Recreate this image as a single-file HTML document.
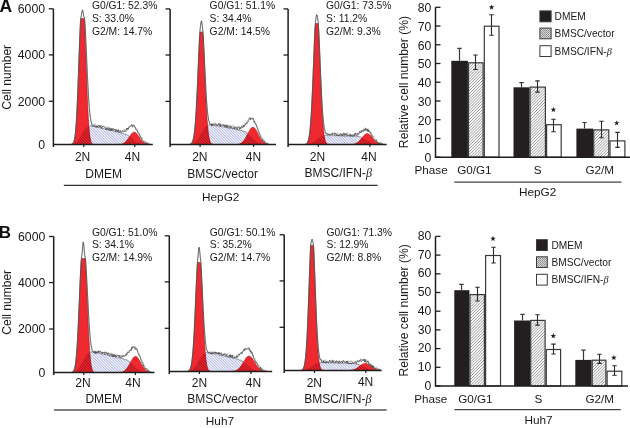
<!DOCTYPE html><html><head><meta charset="utf-8"><style>html,body{margin:0;padding:0;background:#fff;}svg{display:block;will-change:transform;}text{font-family:"Liberation Sans", sans-serif;}</style></head><body>
<svg width="630" height="428" viewBox="0 0 630 428">
<defs>
<pattern id="hb" patternUnits="userSpaceOnUse" width="1.95" height="3" patternTransform="rotate(-45)"><rect width="1.95" height="3" fill="#fcfcff"/><rect x="0" y="0" width="0.8" height="3" fill="#a4aadb"/></pattern>
<pattern id="hr" patternUnits="userSpaceOnUse" width="1.95" height="3" patternTransform="rotate(-45)"><rect x="0" y="0" width="0.9" height="3" fill="#a8101a"/></pattern>
<pattern id="hg" patternUnits="userSpaceOnUse" width="2.05" height="3" patternTransform="rotate(45)"><rect width="2.05" height="3" fill="#fff"/><rect x="0" y="0" width="0.75" height="3" fill="#9a9a9a"/></pattern>
<pattern id="dots" patternUnits="userSpaceOnUse" width="2" height="2"><rect width="2" height="2" fill="#d8d8d8"/><rect width="1" height="1" fill="#8a8a8a"/><rect x="1" y="1" width="1" height="1" fill="#9a9a9a"/></pattern>
</defs>
<rect width="630" height="428" fill="#fff"/>
<clipPath id="cra1"><path d="M71.4,144.5 L71.4,144.4 L71.9,144.29 L72.4,144.08 L72.9,143.7 L73.4,143.04 L73.9,141.95 L74.4,140.23 L74.9,137.62 L75.4,133.84 L75.9,128.6 L76.4,121.67 L76.9,112.89 L77.4,102.28 L77.9,90.02 L78.4,76.52 L78.9,62.39 L79.4,48.38 L79.9,35.28 L80.4,23.86 L80.9,18.5 L81.4,18.5 L81.9,18.5 L82.4,18.5 L82.9,18.5 L83.4,18.5 L83.9,18.5 L84.4,19.9 L84.9,30.47 L85.4,42.98 L85.9,56.73 L86.4,70.91 L86.9,84.74 L87.4,97.55 L87.9,108.86 L88.4,118.38 L88.9,126.04 L89.4,131.93 L89.9,136.26 L90.4,139.3 L90.9,141.35 L91.4,142.67 L91.9,143.47 L92.4,143.95 L92.9,144.22 L93.4,144.36 L93.9,144.43 L93.9,144.5 Z"/><path d="M117.9,144.5 L117.9,144.44 L118.4,144.42 L118.9,144.38 L119.4,144.34 L119.9,144.29 L120.4,144.22 L120.9,144.14 L121.4,144.03 L121.9,143.89 L122.4,143.73 L122.9,143.53 L123.4,143.29 L123.9,143 L124.4,142.67 L124.9,142.28 L125.4,141.84 L125.9,141.35 L126.4,140.8 L126.9,140.19 L127.4,139.54 L127.9,138.85 L128.4,138.12 L128.9,137.37 L129.4,136.62 L129.9,135.86 L130.4,135.14 L130.9,134.45 L131.4,133.81 L131.9,133.25 L132.4,132.78 L132.9,132.42 L133.4,132.16 L133.9,132.02 L134.4,132.01 L134.9,132.12 L135.4,132.35 L135.9,132.7 L136.4,133.15 L136.9,133.7 L137.4,134.31 L137.9,134.99 L138.4,135.72 L138.9,136.46 L139.4,137.22 L139.9,137.97 L140.4,138.71 L140.9,139.41 L141.4,140.07 L141.9,140.68 L142.4,141.24 L142.9,141.75 L143.4,142.2 L143.9,142.6 L144.4,142.94 L144.9,143.23 L145.4,143.48 L145.9,143.69 L146.4,143.86 L146.9,144 L147.4,144.12 L147.9,144.21 L148.4,144.28 L148.9,144.33 L149.4,144.38 L149.9,144.41 L150.4,144.43 L150.4,144.5 Z"/></clipPath>
<path d="M69.4,144.5 L69.4,144.44 L69.9,144.41 L70.4,144.38 L70.9,144.34 L71.4,144.28 L71.9,144.21 L72.4,144.11 L72.9,144 L73.4,143.85 L73.9,143.67 L74.4,143.45 L74.9,143.19 L75.4,142.88 L75.9,142.52 L76.4,142.1 L76.9,141.63 L77.4,141.09 L77.9,140.5 L78.4,139.84 L78.9,139.13 L79.4,138.37 L79.9,137.57 L80.4,136.73 L80.9,135.87 L81.4,134.99 L81.9,134.11 L82.4,133.24 L82.9,132.39 L83.4,131.57 L83.9,130.79 L84.4,130.06 L84.9,129.38 L85.4,128.77 L85.9,128.22 L86.4,127.73 L86.9,127.32 L87.4,126.96 L87.9,126.67 L88.4,126.44 L88.9,126.27 L89.4,126.14 L89.9,126.05 L90.4,126 L90.9,125.99 L91.4,126 L91.9,126.03 L92.4,126.09 L92.9,126.16 L93.4,126.24 L93.9,126.33 L94.4,126.43 L94.9,126.54 L95.4,126.64 L95.9,126.76 L96.4,126.87 L96.9,126.99 L97.4,127.11 L97.9,127.23 L98.4,127.35 L98.9,127.47 L99.4,127.59 L99.9,127.71 L100.4,127.83 L100.9,127.95 L101.4,128.07 L101.9,128.19 L102.4,128.31 L102.9,128.43 L103.4,128.55 L103.9,128.67 L104.4,128.79 L104.9,128.92 L105.4,129.04 L105.9,129.16 L106.4,129.28 L106.9,129.4 L107.4,129.52 L107.9,129.64 L108.4,129.76 L108.9,129.88 L109.4,130 L109.9,130.12 L110.4,130.25 L110.9,130.37 L111.4,130.49 L111.9,130.61 L112.4,130.73 L112.9,130.85 L113.4,130.97 L113.9,131.09 L114.4,131.21 L114.9,131.33 L115.4,131.46 L115.9,131.58 L116.4,131.7 L116.9,131.82 L117.4,131.94 L117.9,132.07 L118.4,132.19 L118.9,132.31 L119.4,132.44 L119.9,132.57 L120.4,132.7 L120.9,132.83 L121.4,132.97 L121.9,133.11 L122.4,133.25 L122.9,133.4 L123.4,133.56 L123.9,133.73 L124.4,133.9 L124.9,134.09 L125.4,134.29 L125.9,134.5 L126.4,134.73 L126.9,134.98 L127.4,135.24 L127.9,135.52 L128.4,135.82 L128.9,136.13 L129.4,136.47 L129.9,136.82 L130.4,137.19 L130.9,137.57 L131.4,137.96 L131.9,138.37 L132.4,138.78 L132.9,139.19 L133.4,139.6 L133.9,140.01 L134.4,140.41 L134.9,140.8 L135.4,141.17 L135.9,141.53 L136.4,141.87 L136.9,142.19 L137.4,142.48 L137.9,142.75 L138.4,143 L138.9,143.22 L139.4,143.42 L139.9,143.59 L140.4,143.75 L140.9,143.88 L141.4,143.99 L141.9,144.09 L142.4,144.17 L142.9,144.24 L143.4,144.29 L143.9,144.34 L144.4,144.38 L144.9,144.4 L145.4,144.43 L145.9,144.45 L145.9,144.5 Z" fill="url(#hb)"/>
<path d="M71.4,144.5 L71.4,144.4 L71.9,144.29 L72.4,144.08 L72.9,143.7 L73.4,143.04 L73.9,141.95 L74.4,140.23 L74.9,137.62 L75.4,133.84 L75.9,128.6 L76.4,121.67 L76.9,112.89 L77.4,102.28 L77.9,90.02 L78.4,76.52 L78.9,62.39 L79.4,48.38 L79.9,35.28 L80.4,23.86 L80.9,18.5 L81.4,18.5 L81.9,18.5 L82.4,18.5 L82.9,18.5 L83.4,18.5 L83.9,18.5 L84.4,19.9 L84.9,30.47 L85.4,42.98 L85.9,56.73 L86.4,70.91 L86.9,84.74 L87.4,97.55 L87.9,108.86 L88.4,118.38 L88.9,126.04 L89.4,131.93 L89.9,136.26 L90.4,139.3 L90.9,141.35 L91.4,142.67 L91.9,143.47 L92.4,143.95 L92.9,144.22 L93.4,144.36 L93.9,144.43 L93.9,144.5 Z" fill="#ee2a30"/>
<path d="M117.9,144.5 L117.9,144.44 L118.4,144.42 L118.9,144.38 L119.4,144.34 L119.9,144.29 L120.4,144.22 L120.9,144.14 L121.4,144.03 L121.9,143.89 L122.4,143.73 L122.9,143.53 L123.4,143.29 L123.9,143 L124.4,142.67 L124.9,142.28 L125.4,141.84 L125.9,141.35 L126.4,140.8 L126.9,140.19 L127.4,139.54 L127.9,138.85 L128.4,138.12 L128.9,137.37 L129.4,136.62 L129.9,135.86 L130.4,135.14 L130.9,134.45 L131.4,133.81 L131.9,133.25 L132.4,132.78 L132.9,132.42 L133.4,132.16 L133.9,132.02 L134.4,132.01 L134.9,132.12 L135.4,132.35 L135.9,132.7 L136.4,133.15 L136.9,133.7 L137.4,134.31 L137.9,134.99 L138.4,135.72 L138.9,136.46 L139.4,137.22 L139.9,137.97 L140.4,138.71 L140.9,139.41 L141.4,140.07 L141.9,140.68 L142.4,141.24 L142.9,141.75 L143.4,142.2 L143.9,142.6 L144.4,142.94 L144.9,143.23 L145.4,143.48 L145.9,143.69 L146.4,143.86 L146.9,144 L147.4,144.12 L147.9,144.21 L148.4,144.28 L148.9,144.33 L149.4,144.38 L149.9,144.41 L150.4,144.43 L150.4,144.5 Z" fill="#ee2a30"/>
<path d="M69.4,144.5 L69.4,144.44 L69.9,144.41 L70.4,144.38 L70.9,144.34 L71.4,144.28 L71.9,144.21 L72.4,144.11 L72.9,144 L73.4,143.85 L73.9,143.67 L74.4,143.45 L74.9,143.19 L75.4,142.88 L75.9,142.52 L76.4,142.1 L76.9,141.63 L77.4,141.09 L77.9,140.5 L78.4,139.84 L78.9,139.13 L79.4,138.37 L79.9,137.57 L80.4,136.73 L80.9,135.87 L81.4,134.99 L81.9,134.11 L82.4,133.24 L82.9,132.39 L83.4,131.57 L83.9,130.79 L84.4,130.06 L84.9,129.38 L85.4,128.77 L85.9,128.22 L86.4,127.73 L86.9,127.32 L87.4,126.96 L87.9,126.67 L88.4,126.44 L88.9,126.27 L89.4,126.14 L89.9,126.05 L90.4,126 L90.9,125.99 L91.4,126 L91.9,126.03 L92.4,126.09 L92.9,126.16 L93.4,126.24 L93.9,126.33 L94.4,126.43 L94.9,126.54 L95.4,126.64 L95.9,126.76 L96.4,126.87 L96.9,126.99 L97.4,127.11 L97.9,127.23 L98.4,127.35 L98.9,127.47 L99.4,127.59 L99.9,127.71 L100.4,127.83 L100.9,127.95 L101.4,128.07 L101.9,128.19 L102.4,128.31 L102.9,128.43 L103.4,128.55 L103.9,128.67 L104.4,128.79 L104.9,128.92 L105.4,129.04 L105.9,129.16 L106.4,129.28 L106.9,129.4 L107.4,129.52 L107.9,129.64 L108.4,129.76 L108.9,129.88 L109.4,130 L109.9,130.12 L110.4,130.25 L110.9,130.37 L111.4,130.49 L111.9,130.61 L112.4,130.73 L112.9,130.85 L113.4,130.97 L113.9,131.09 L114.4,131.21 L114.9,131.33 L115.4,131.46 L115.9,131.58 L116.4,131.7 L116.9,131.82 L117.4,131.94 L117.9,132.07 L118.4,132.19 L118.9,132.31 L119.4,132.44 L119.9,132.57 L120.4,132.7 L120.9,132.83 L121.4,132.97 L121.9,133.11 L122.4,133.25 L122.9,133.4 L123.4,133.56 L123.9,133.73 L124.4,133.9 L124.9,134.09 L125.4,134.29 L125.9,134.5 L126.4,134.73 L126.9,134.98 L127.4,135.24 L127.9,135.52 L128.4,135.82 L128.9,136.13 L129.4,136.47 L129.9,136.82 L130.4,137.19 L130.9,137.57 L131.4,137.96 L131.9,138.37 L132.4,138.78 L132.9,139.19 L133.4,139.6 L133.9,140.01 L134.4,140.41 L134.9,140.8 L135.4,141.17 L135.9,141.53 L136.4,141.87 L136.9,142.19 L137.4,142.48 L137.9,142.75 L138.4,143 L138.9,143.22 L139.4,143.42 L139.9,143.59 L140.4,143.75 L140.9,143.88 L141.4,143.99 L141.9,144.09 L142.4,144.17 L142.9,144.24 L143.4,144.29 L143.9,144.34 L144.4,144.38 L144.9,144.4 L145.4,144.43 L145.9,144.45 L145.9,144.5 Z" fill="url(#hr)" clip-path="url(#cra1)"/>
<path d="M71.4,144.5 L71.4,144.4 L71.9,144.29 L72.4,144.08 L72.9,143.7 L73.4,143.04 L73.9,141.95 L74.4,140.23 L74.9,137.62 L75.4,133.84 L75.9,128.6 L76.4,121.67 L76.9,112.89 L77.4,102.28 L77.9,90.02 L78.4,76.52 L78.9,62.39 L79.4,48.38 L79.9,35.28 L80.4,23.86 L80.9,18.5 L81.4,18.5 L81.9,18.5 L82.4,18.5 L82.9,18.5 L83.4,18.5 L83.9,18.5 L84.4,19.9 L84.9,30.47 L85.4,42.98 L85.9,56.73 L86.4,70.91 L86.9,84.74 L87.4,97.55 L87.9,108.86 L88.4,118.38 L88.9,126.04 L89.4,131.93 L89.9,136.26 L90.4,139.3 L90.9,141.35 L91.4,142.67 L91.9,143.47 L92.4,143.95 L92.9,144.22 L93.4,144.36 L93.9,144.43 L93.9,144.5 Z" fill="none" stroke="#8a0c12" stroke-width="0.7" opacity="0.75"/>
<path d="M117.9,144.5 L117.9,144.44 L118.4,144.42 L118.9,144.38 L119.4,144.34 L119.9,144.29 L120.4,144.22 L120.9,144.14 L121.4,144.03 L121.9,143.89 L122.4,143.73 L122.9,143.53 L123.4,143.29 L123.9,143 L124.4,142.67 L124.9,142.28 L125.4,141.84 L125.9,141.35 L126.4,140.8 L126.9,140.19 L127.4,139.54 L127.9,138.85 L128.4,138.12 L128.9,137.37 L129.4,136.62 L129.9,135.86 L130.4,135.14 L130.9,134.45 L131.4,133.81 L131.9,133.25 L132.4,132.78 L132.9,132.42 L133.4,132.16 L133.9,132.02 L134.4,132.01 L134.9,132.12 L135.4,132.35 L135.9,132.7 L136.4,133.15 L136.9,133.7 L137.4,134.31 L137.9,134.99 L138.4,135.72 L138.9,136.46 L139.4,137.22 L139.9,137.97 L140.4,138.71 L140.9,139.41 L141.4,140.07 L141.9,140.68 L142.4,141.24 L142.9,141.75 L143.4,142.2 L143.9,142.6 L144.4,142.94 L144.9,143.23 L145.4,143.48 L145.9,143.69 L146.4,143.86 L146.9,144 L147.4,144.12 L147.9,144.21 L148.4,144.28 L148.9,144.33 L149.4,144.38 L149.9,144.41 L150.4,144.43 L150.4,144.5 Z" fill="none" stroke="#8a0c12" stroke-width="0.5" opacity="0.6"/>
<path d="M71.4,144.2 L71.9,144.03 L72.4,143.75 L72.9,143.28 L73.4,142.52 L73.9,141.32 L74.4,139.48 L74.9,136.74 L75.4,132.84 L75.9,127.49 L76.4,120.46 L76.9,111.61 L77.4,100.95 L77.9,88.69 L78.4,75.25 L78.9,61.22 L79.4,47.36 L79.9,34.44 L80.4,23.23 L80.9,17.45 L81.4,15.3 L81.9,12.04 L82.4,9.87 L82.9,10.88 L83.4,14.05 L83.9,16.78 L84.4,17.54 L84.9,22.02 L85.4,31.04 L85.9,41.28 L86.4,52.28 L86.9,63.51 L87.4,74.47 L87.9,84.86 L88.4,93.91 L88.9,101.99 L89.4,108.8 L89.9,113.9 L90.4,117.03 L90.9,119.58 L91.4,123.5 L91.9,123.5 L92.4,125.82 L92.9,124.6 L93.4,125.86 L93.9,124.54 L94.4,124.31 L94.9,125.53 L95.4,124.22 L95.9,126 L96.4,126.6 L96.9,125.26 L97.4,126.78 L97.9,126.4 L98.4,125.93 L98.9,125.48 L99.4,126.76 L99.9,127.15 L100.4,125.11 L100.9,126.66 L101.4,125.1 L101.9,125.37 L102.4,126.84 L102.9,126.74 L103.4,126.71 L103.9,126.5 L104.4,126.75 L104.9,126.96 L105.4,126.93 L105.9,126.21 L106.4,127.46 L106.9,127.78 L107.4,127.15 L107.9,128.52 L108.4,128.48 L108.9,126.84 L109.4,128.15 L109.9,128.2 L110.4,129.72 L110.9,128.79 L111.4,128.48 L111.9,130.06 L112.4,128.63 L112.9,128.7 L113.4,130.31 L113.9,128.96 L114.4,129.5 L114.9,129.06 L115.4,130.03 L115.9,129.22 L116.4,129.26 L116.9,131.23 L117.4,131.24 L117.9,129.74 L118.4,129.1 L118.9,131.04 L119.4,130.59 L119.9,130.31 L120.4,131.08 L120.9,131.01 L121.4,131.17 L121.9,131.02 L122.4,130.41 L122.9,131.12 L123.4,130.84 L123.9,129.69 L124.4,131.46 L124.9,129.85 L125.4,129.17 L125.9,129.99 L126.4,129.89 L126.9,128.01 L127.4,129.08 L127.9,128.8 L128.4,127.72 L128.9,126.59 L129.4,127.72 L129.9,126.74 L130.4,126.34 L130.9,124.73 L131.4,125.52 L131.9,124.27 L132.4,126 L132.9,125.6 L133.4,124.94 L133.9,124.61 L134.4,126.12 L134.9,127.22 L135.4,128.1 L135.9,127.75 L136.4,129.42 L136.9,128.69 L137.4,129.53 L137.9,132.19 L138.4,132.91 L138.9,132.52 L139.4,133.91 L139.9,134.41 L140.4,136.5 L140.9,137.91 L141.4,138.27 L141.9,137.68 L142.4,139.69 L142.9,140.08 L143.4,140.43 L143.9,140.9 L144.4,141.36 L144.9,140.59 L145.4,142.66 L145.9,143.25 L146.4,141.88 L146.9,142.41 L147.4,142.68 L147.9,143.6 L148.4,143.45 L148.9,143.75 L149.9,144.19" fill="none" stroke="#8a8a8a" stroke-width="0.6" opacity="0.9"/>
<path d="M71.4,144.2 L71.9,144.03 L72.4,143.75 L72.9,143.28 L73.4,142.52 L73.9,141.32 L74.4,139.48 L74.9,136.74 L75.4,132.84 L75.9,127.49 L76.4,120.46 L76.9,111.61 L77.4,100.95 L77.9,88.69 L78.4,75.25 L78.9,61.22 L79.4,47.36 L79.9,34.44 L80.4,23.23 L80.9,17.45 L81.4,15.3 L81.9,12.04 L82.4,9.87 L82.9,10.88 L83.4,14.05 L83.9,16.78 L84.4,17.54 L84.9,22.02 L85.4,31.04 L85.9,41.28 L86.4,52.28 L86.9,63.52 L87.4,74.53 L87.9,84.92 L88.4,94.24 L88.9,102.22 L89.4,108.64 L89.9,113.58 L90.4,118.33 L90.9,120.3 L91.4,122.81 L91.9,124.75 L92.4,125.82 L92.9,125.97 L93.4,125.62 L93.9,126.57 L94.4,125.78 L94.9,126.46 L95.4,127.08 L95.9,126.19 L96.4,125.72 L96.9,127.61 L97.4,126.59 L97.9,126.64 L98.4,125.35 L98.9,125.26 L99.4,127.04 L99.9,125.57 L100.4,125.99 L100.9,127.69 L101.4,127.2 L101.9,128.33 L102.4,126.38 L102.9,126.95 L103.4,126.4 L103.9,126.8 L104.4,127.29 L104.9,127.22 L105.4,127.85 L105.9,129.35 L106.4,128.02 L106.9,129.88 L107.4,129.59 L107.9,127.82 L108.4,130.13 L108.9,130.11 L109.4,130.21 L109.9,127.98 L110.4,130.21 L110.9,130.8 L111.4,128.46 L111.9,130.74 L112.4,128.7 L112.9,129.33 L113.4,128.96 L113.9,128.73 L114.4,129.97 L114.9,129.43 L115.4,131.84 L115.9,129.76 L116.4,130.64 L116.9,130.14 L117.4,132.08 L117.9,130.25 L118.4,129.8 L118.9,132.51 L119.4,131.81 L119.9,131.16 L120.4,130.43 L120.9,132.23 L121.4,132.44 L121.9,132.23 L122.4,131.11 L122.9,130.65 L123.4,131.64 L123.9,131.59 L124.4,131.34 L124.9,131.28 L125.4,130.83 L125.9,131.55 L126.4,129.97 L126.9,128.18 L127.4,129.47 L127.9,128.04 L128.4,129.37 L128.9,127.34 L129.4,126.71 L129.9,126.55 L130.4,126.66 L130.9,126.45 L131.4,125.73 L131.9,124.81 L132.4,126.99 L132.9,127.19 L133.4,125.39 L133.9,125.16 L134.4,126.75 L134.9,127.47 L135.4,127.26 L135.9,129.57 L136.4,130.12 L136.9,131.19 L137.4,130.95 L137.9,132.72 L138.4,133.94 L138.9,133.54 L139.4,133.72 L139.9,136.62 L140.4,136.29 L140.9,138 L141.4,137.46 L141.9,138.99 L142.4,140.59 L142.9,141.31 L143.4,142.39 L143.9,141.53 L144.4,142.2 L144.9,143.11 L145.4,142.93 L145.9,143.28 L146.4,142.62 L146.9,144.01 L147.4,142.95 L147.9,143.85 L148.4,143.91 L148.9,144.15 L149.4,144.1" fill="none" stroke="#404040" stroke-width="0.65" opacity="1"/>
<path d="M89.4,125.85 L89.9,126.13 L90.4,125.81 L90.9,125.62 L91.4,126.02 L91.9,126.25 L92.4,126.3 L92.9,125.98 L93.4,126.1 L93.9,125.96 L94.4,126.15 L94.9,126.74 L95.4,126.89 L95.9,126.95 L96.4,127.12 L96.9,126.83 L97.4,126.82 L97.9,126.91 L98.4,127.54 L98.9,127.17 L99.4,127.74 L99.9,127.77 L100.4,127.65 L100.9,128.28 L101.4,128.4 L101.9,127.92 L102.4,128.48 L102.9,128.55 L103.4,128.49 L103.9,128.53 L104.4,129.19 L104.9,129.05 L105.4,129.09 L105.9,129.17 L106.4,129.51 L106.9,129.33 L107.4,129.16 L107.9,129.73 L108.4,129.73 L108.9,130.19 L109.4,130.18 L109.9,129.99 L110.4,130.56 L110.9,130.06 L111.4,130.16 L111.9,130.93 L112.4,130.38 L112.9,130.95 L113.4,130.75 L113.9,130.89 L114.4,131.38 L114.9,131.19 L115.4,131.33 L115.9,131.33 L116.4,131.89 L116.9,131.62 L117.4,131.57 L117.9,131.93 L118.4,132.16 L118.9,132.62 L119.4,132.45 L119.9,132.69 L120.4,132.52 L120.9,132.69 L121.4,132.91 L121.9,133.36 L122.4,133.13 L122.9,133.3 L123.4,133.82 L123.9,133.41 L124.4,133.78 L124.9,134.39 L125.4,133.94 L125.9,134.79 L126.4,134.87 L126.9,134.8 L127.4,135.16 L127.9,135.47 L128.4,135.7 L128.9,136.17 L129.4,136.62" fill="none" stroke="#3a3a4a" stroke-width="0.6" opacity="0.9"/>
<path d="M53.4,8.8 V147.1 M52.65,144.5 H152.8" stroke="#1e1e1e" stroke-width="1.5" fill="none"/>
<path d="M48.8,8.8 H53.4" stroke="#1e1e1e" stroke-width="1.3"/>
<path d="M48.8,54.9 H53.4" stroke="#1e1e1e" stroke-width="1.3"/>
<path d="M48.8,101.3 H53.4" stroke="#1e1e1e" stroke-width="1.3"/>
<path d="M83.8,144.5 V147.1" stroke="#1e1e1e" stroke-width="1.2"/>
<path d="M134.8,144.5 V147.1" stroke="#1e1e1e" stroke-width="1.2"/>
<text x="45.1" y="13.1" font-size="12.3" text-anchor="end" font-weight="normal" fill="#1a1a1a" >6000</text>
<text x="45.1" y="59.2" font-size="12.3" text-anchor="end" font-weight="normal" fill="#1a1a1a" >4000</text>
<text x="45.1" y="105.6" font-size="12.3" text-anchor="end" font-weight="normal" fill="#1a1a1a" >2000</text>
<text x="45.1" y="148.8" font-size="12.3" text-anchor="end" font-weight="normal" fill="#1a1a1a" >0</text>
<text x="82.6" y="160.8" font-size="12" text-anchor="middle" font-weight="normal" fill="#1a1a1a" >2N</text>
<text x="132.5" y="160.8" font-size="12" text-anchor="middle" font-weight="normal" fill="#1a1a1a" >4N</text>
<text x="91.9" y="9.4" font-size="10.35" text-anchor="start" font-weight="normal" fill="#1a1a1a" >G0/G1: 52.3%</text>
<text x="91.9" y="22" font-size="10.35" text-anchor="start" font-weight="normal" fill="#1a1a1a" >S: 33.0%</text>
<text x="91.9" y="34.6" font-size="10.35" text-anchor="start" font-weight="normal" fill="#1a1a1a" >G2/M: 14.7%</text>
<text x="103.6" y="177.7" font-size="12" text-anchor="middle" font-weight="normal" fill="#1a1a1a" >DMEM</text>
<clipPath id="cra2"><path d="M189.1,144.5 L189.1,144.43 L189.6,144.37 L190.1,144.27 L190.6,144.1 L191.1,143.83 L191.6,143.4 L192.1,142.74 L192.6,141.75 L193.1,140.3 L193.6,138.25 L194.1,135.43 L194.6,131.66 L195.1,126.75 L195.6,120.57 L196.1,113.03 L196.6,104.11 L197.1,93.94 L197.6,82.74 L198.1,70.91 L198.6,58.95 L199.1,47.47 L199.6,37.13 L200.1,32 L200.6,32 L201.1,32 L201.6,32 L202.1,32 L202.6,32 L203.1,35.26 L203.6,45.29 L204.1,56.59 L204.6,68.51 L205.1,80.41 L205.6,91.77 L206.1,102.17 L206.6,111.35 L207.1,119.17 L207.6,125.62 L208.1,130.77 L208.6,134.76 L209.1,137.76 L209.6,139.95 L210.1,141.5 L210.6,142.57 L211.1,143.29 L211.6,143.76 L212.1,144.06 L212.6,144.24 L213.1,144.35 L213.6,144.42 L213.6,144.5 Z"/><path d="M235.1,144.5 L235.1,144.44 L235.6,144.42 L236.1,144.38 L236.6,144.35 L237.1,144.29 L237.6,144.23 L238.1,144.15 L238.6,144.04 L239.1,143.91 L239.6,143.75 L240.1,143.55 L240.6,143.32 L241.1,143.03 L241.6,142.7 L242.1,142.31 L242.6,141.85 L243.1,141.33 L243.6,140.75 L244.1,140.09 L244.6,139.37 L245.1,138.57 L245.6,137.72 L246.1,136.82 L246.6,135.87 L247.1,134.88 L247.6,133.89 L248.1,132.89 L248.6,131.91 L249.1,130.97 L249.6,130.08 L250.1,129.28 L250.6,128.57 L251.1,127.98 L251.6,127.52 L252.1,127.2 L252.6,127.03 L253.1,127.01 L253.6,127.15 L254.1,127.44 L254.6,127.88 L255.1,128.44 L255.6,129.13 L256.1,129.92 L256.6,130.78 L257.1,131.72 L257.6,132.69 L258.1,133.69 L258.6,134.69 L259.1,135.67 L259.6,136.63 L260.1,137.55 L260.6,138.41 L261.1,139.21 L261.6,139.95 L262.1,140.62 L262.6,141.22 L263.1,141.75 L263.6,142.22 L264.1,142.62 L264.6,142.97 L265.1,143.26 L265.6,143.51 L266.1,143.71 L266.6,143.88 L267.1,144.02 L267.6,144.13 L268.1,144.21 L268.6,144.28 L269.1,144.34 L269.6,144.38 L270.1,144.41 L270.6,144.43 L270.6,144.5 Z"/></clipPath>
<path d="M188.1,144.5 L188.1,144.45 L188.6,144.42 L189.1,144.39 L189.6,144.35 L190.1,144.3 L190.6,144.23 L191.1,144.15 L191.6,144.04 L192.1,143.9 L192.6,143.73 L193.1,143.52 L193.6,143.27 L194.1,142.97 L194.6,142.62 L195.1,142.21 L195.6,141.74 L196.1,141.21 L196.6,140.61 L197.1,139.95 L197.6,139.23 L198.1,138.46 L198.6,137.63 L199.1,136.77 L199.6,135.87 L200.1,134.94 L200.6,134.01 L201.1,133.08 L201.6,132.16 L202.1,131.27 L202.6,130.41 L203.1,129.6 L203.6,128.84 L204.1,128.15 L204.6,127.51 L205.1,126.95 L205.6,126.45 L206.1,126.03 L206.6,125.66 L207.1,125.36 L207.6,125.12 L208.1,124.94 L208.6,124.79 L209.1,124.7 L209.6,124.64 L210.1,124.6 L210.6,124.6 L211.1,124.62 L211.6,124.65 L212.1,124.71 L212.6,124.77 L213.1,124.84 L213.6,124.92 L214.1,125 L214.6,125.09 L215.1,125.18 L215.6,125.27 L216.1,125.36 L216.6,125.46 L217.1,125.55 L217.6,125.65 L218.1,125.74 L218.6,125.84 L219.1,125.94 L219.6,126.03 L220.1,126.13 L220.6,126.23 L221.1,126.33 L221.6,126.42 L222.1,126.52 L222.6,126.62 L223.1,126.71 L223.6,126.81 L224.1,126.91 L224.6,127 L225.1,127.1 L225.6,127.2 L226.1,127.3 L226.6,127.39 L227.1,127.49 L227.6,127.59 L228.1,127.68 L228.6,127.78 L229.1,127.88 L229.6,127.98 L230.1,128.07 L230.6,128.17 L231.1,128.27 L231.6,128.36 L232.1,128.46 L232.6,128.56 L233.1,128.66 L233.6,128.75 L234.1,128.85 L234.6,128.95 L235.1,129.05 L235.6,129.15 L236.1,129.25 L236.6,129.35 L237.1,129.45 L237.6,129.56 L238.1,129.67 L238.6,129.77 L239.1,129.89 L239.6,130.01 L240.1,130.13 L240.6,130.26 L241.1,130.39 L241.6,130.54 L242.1,130.7 L242.6,130.86 L243.1,131.05 L243.6,131.24 L244.1,131.46 L244.6,131.69 L245.1,131.94 L245.6,132.21 L246.1,132.51 L246.6,132.83 L247.1,133.17 L247.6,133.54 L248.1,133.93 L248.6,134.34 L249.1,134.78 L249.6,135.23 L250.1,135.7 L250.6,136.19 L251.1,136.68 L251.6,137.19 L252.1,137.69 L252.6,138.2 L253.1,138.7 L253.6,139.19 L254.1,139.67 L254.6,140.13 L255.1,140.58 L255.6,141 L256.1,141.39 L256.6,141.76 L257.1,142.11 L257.6,142.42 L258.1,142.71 L258.6,142.96 L259.1,143.19 L259.6,143.4 L260.1,143.58 L260.6,143.73 L261.1,143.87 L261.6,143.98 L262.1,144.08 L262.6,144.16 L263.1,144.23 L263.6,144.28 L264.1,144.33 L264.6,144.37 L265.1,144.4 L265.6,144.42 L266.1,144.44 L266.1,144.5 Z" fill="url(#hb)"/>
<path d="M189.1,144.5 L189.1,144.43 L189.6,144.37 L190.1,144.27 L190.6,144.1 L191.1,143.83 L191.6,143.4 L192.1,142.74 L192.6,141.75 L193.1,140.3 L193.6,138.25 L194.1,135.43 L194.6,131.66 L195.1,126.75 L195.6,120.57 L196.1,113.03 L196.6,104.11 L197.1,93.94 L197.6,82.74 L198.1,70.91 L198.6,58.95 L199.1,47.47 L199.6,37.13 L200.1,32 L200.6,32 L201.1,32 L201.6,32 L202.1,32 L202.6,32 L203.1,35.26 L203.6,45.29 L204.1,56.59 L204.6,68.51 L205.1,80.41 L205.6,91.77 L206.1,102.17 L206.6,111.35 L207.1,119.17 L207.6,125.62 L208.1,130.77 L208.6,134.76 L209.1,137.76 L209.6,139.95 L210.1,141.5 L210.6,142.57 L211.1,143.29 L211.6,143.76 L212.1,144.06 L212.6,144.24 L213.1,144.35 L213.6,144.42 L213.6,144.5 Z" fill="#ee2a30"/>
<path d="M235.1,144.5 L235.1,144.44 L235.6,144.42 L236.1,144.38 L236.6,144.35 L237.1,144.29 L237.6,144.23 L238.1,144.15 L238.6,144.04 L239.1,143.91 L239.6,143.75 L240.1,143.55 L240.6,143.32 L241.1,143.03 L241.6,142.7 L242.1,142.31 L242.6,141.85 L243.1,141.33 L243.6,140.75 L244.1,140.09 L244.6,139.37 L245.1,138.57 L245.6,137.72 L246.1,136.82 L246.6,135.87 L247.1,134.88 L247.6,133.89 L248.1,132.89 L248.6,131.91 L249.1,130.97 L249.6,130.08 L250.1,129.28 L250.6,128.57 L251.1,127.98 L251.6,127.52 L252.1,127.2 L252.6,127.03 L253.1,127.01 L253.6,127.15 L254.1,127.44 L254.6,127.88 L255.1,128.44 L255.6,129.13 L256.1,129.92 L256.6,130.78 L257.1,131.72 L257.6,132.69 L258.1,133.69 L258.6,134.69 L259.1,135.67 L259.6,136.63 L260.1,137.55 L260.6,138.41 L261.1,139.21 L261.6,139.95 L262.1,140.62 L262.6,141.22 L263.1,141.75 L263.6,142.22 L264.1,142.62 L264.6,142.97 L265.1,143.26 L265.6,143.51 L266.1,143.71 L266.6,143.88 L267.1,144.02 L267.6,144.13 L268.1,144.21 L268.6,144.28 L269.1,144.34 L269.6,144.38 L270.1,144.41 L270.6,144.43 L270.6,144.5 Z" fill="#ee2a30"/>
<path d="M188.1,144.5 L188.1,144.45 L188.6,144.42 L189.1,144.39 L189.6,144.35 L190.1,144.3 L190.6,144.23 L191.1,144.15 L191.6,144.04 L192.1,143.9 L192.6,143.73 L193.1,143.52 L193.6,143.27 L194.1,142.97 L194.6,142.62 L195.1,142.21 L195.6,141.74 L196.1,141.21 L196.6,140.61 L197.1,139.95 L197.6,139.23 L198.1,138.46 L198.6,137.63 L199.1,136.77 L199.6,135.87 L200.1,134.94 L200.6,134.01 L201.1,133.08 L201.6,132.16 L202.1,131.27 L202.6,130.41 L203.1,129.6 L203.6,128.84 L204.1,128.15 L204.6,127.51 L205.1,126.95 L205.6,126.45 L206.1,126.03 L206.6,125.66 L207.1,125.36 L207.6,125.12 L208.1,124.94 L208.6,124.79 L209.1,124.7 L209.6,124.64 L210.1,124.6 L210.6,124.6 L211.1,124.62 L211.6,124.65 L212.1,124.71 L212.6,124.77 L213.1,124.84 L213.6,124.92 L214.1,125 L214.6,125.09 L215.1,125.18 L215.6,125.27 L216.1,125.36 L216.6,125.46 L217.1,125.55 L217.6,125.65 L218.1,125.74 L218.6,125.84 L219.1,125.94 L219.6,126.03 L220.1,126.13 L220.6,126.23 L221.1,126.33 L221.6,126.42 L222.1,126.52 L222.6,126.62 L223.1,126.71 L223.6,126.81 L224.1,126.91 L224.6,127 L225.1,127.1 L225.6,127.2 L226.1,127.3 L226.6,127.39 L227.1,127.49 L227.6,127.59 L228.1,127.68 L228.6,127.78 L229.1,127.88 L229.6,127.98 L230.1,128.07 L230.6,128.17 L231.1,128.27 L231.6,128.36 L232.1,128.46 L232.6,128.56 L233.1,128.66 L233.6,128.75 L234.1,128.85 L234.6,128.95 L235.1,129.05 L235.6,129.15 L236.1,129.25 L236.6,129.35 L237.1,129.45 L237.6,129.56 L238.1,129.67 L238.6,129.77 L239.1,129.89 L239.6,130.01 L240.1,130.13 L240.6,130.26 L241.1,130.39 L241.6,130.54 L242.1,130.7 L242.6,130.86 L243.1,131.05 L243.6,131.24 L244.1,131.46 L244.6,131.69 L245.1,131.94 L245.6,132.21 L246.1,132.51 L246.6,132.83 L247.1,133.17 L247.6,133.54 L248.1,133.93 L248.6,134.34 L249.1,134.78 L249.6,135.23 L250.1,135.7 L250.6,136.19 L251.1,136.68 L251.6,137.19 L252.1,137.69 L252.6,138.2 L253.1,138.7 L253.6,139.19 L254.1,139.67 L254.6,140.13 L255.1,140.58 L255.6,141 L256.1,141.39 L256.6,141.76 L257.1,142.11 L257.6,142.42 L258.1,142.71 L258.6,142.96 L259.1,143.19 L259.6,143.4 L260.1,143.58 L260.6,143.73 L261.1,143.87 L261.6,143.98 L262.1,144.08 L262.6,144.16 L263.1,144.23 L263.6,144.28 L264.1,144.33 L264.6,144.37 L265.1,144.4 L265.6,144.42 L266.1,144.44 L266.1,144.5 Z" fill="url(#hr)" clip-path="url(#cra2)"/>
<path d="M189.1,144.5 L189.1,144.43 L189.6,144.37 L190.1,144.27 L190.6,144.1 L191.1,143.83 L191.6,143.4 L192.1,142.74 L192.6,141.75 L193.1,140.3 L193.6,138.25 L194.1,135.43 L194.6,131.66 L195.1,126.75 L195.6,120.57 L196.1,113.03 L196.6,104.11 L197.1,93.94 L197.6,82.74 L198.1,70.91 L198.6,58.95 L199.1,47.47 L199.6,37.13 L200.1,32 L200.6,32 L201.1,32 L201.6,32 L202.1,32 L202.6,32 L203.1,35.26 L203.6,45.29 L204.1,56.59 L204.6,68.51 L205.1,80.41 L205.6,91.77 L206.1,102.17 L206.6,111.35 L207.1,119.17 L207.6,125.62 L208.1,130.77 L208.6,134.76 L209.1,137.76 L209.6,139.95 L210.1,141.5 L210.6,142.57 L211.1,143.29 L211.6,143.76 L212.1,144.06 L212.6,144.24 L213.1,144.35 L213.6,144.42 L213.6,144.5 Z" fill="none" stroke="#8a0c12" stroke-width="0.7" opacity="0.75"/>
<path d="M235.1,144.5 L235.1,144.44 L235.6,144.42 L236.1,144.38 L236.6,144.35 L237.1,144.29 L237.6,144.23 L238.1,144.15 L238.6,144.04 L239.1,143.91 L239.6,143.75 L240.1,143.55 L240.6,143.32 L241.1,143.03 L241.6,142.7 L242.1,142.31 L242.6,141.85 L243.1,141.33 L243.6,140.75 L244.1,140.09 L244.6,139.37 L245.1,138.57 L245.6,137.72 L246.1,136.82 L246.6,135.87 L247.1,134.88 L247.6,133.89 L248.1,132.89 L248.6,131.91 L249.1,130.97 L249.6,130.08 L250.1,129.28 L250.6,128.57 L251.1,127.98 L251.6,127.52 L252.1,127.2 L252.6,127.03 L253.1,127.01 L253.6,127.15 L254.1,127.44 L254.6,127.88 L255.1,128.44 L255.6,129.13 L256.1,129.92 L256.6,130.78 L257.1,131.72 L257.6,132.69 L258.1,133.69 L258.6,134.69 L259.1,135.67 L259.6,136.63 L260.1,137.55 L260.6,138.41 L261.1,139.21 L261.6,139.95 L262.1,140.62 L262.6,141.22 L263.1,141.75 L263.6,142.22 L264.1,142.62 L264.6,142.97 L265.1,143.26 L265.6,143.51 L266.1,143.71 L266.6,143.88 L267.1,144.02 L267.6,144.13 L268.1,144.21 L268.6,144.28 L269.1,144.34 L269.6,144.38 L270.1,144.41 L270.6,144.43 L270.6,144.5 Z" fill="none" stroke="#8a0c12" stroke-width="0.5" opacity="0.6"/>
<path d="M190.1,144.09 L190.6,143.86 L191.1,143.52 L191.6,143.01 L192.1,142.24 L192.6,141.14 L193.1,139.57 L193.6,137.38 L194.1,134.42 L194.6,130.51 L195.1,125.49 L195.6,119.21 L196.1,111.6 L196.6,102.67 L197.1,92.52 L197.6,81.41 L198.1,69.72 L198.6,57.94 L199.1,46.68 L199.6,36.34 L200.1,29.15 L200.6,25.22 L201.1,21.32 L201.6,20.87 L202.1,24.33 L202.6,28.5 L203.1,33.52 L203.6,42.46 L204.1,52.52 L204.6,63.1 L205.1,73.63 L205.6,83.65 L206.1,92.73 L206.6,100.61 L207.1,107.14 L207.6,112.66 L208.1,116.7 L208.6,119.4 L209.1,120.92 L209.6,123.59 L210.1,122.97 L210.6,123.28 L211.1,123.32 L211.6,125.5 L212.1,123.1 L212.6,125.23 L213.1,124.48 L213.6,123.68 L214.1,122.8 L214.6,124.24 L215.1,122.69 L215.6,123.67 L216.1,124.29 L216.6,124.31 L217.1,124.72 L217.6,125.04 L218.1,124.92 L218.6,123.6 L219.1,122.88 L219.6,125.14 L220.1,125.52 L220.6,123.17 L221.1,124.45 L221.6,124.87 L222.1,125.41 L222.6,124.57 L223.1,124.07 L223.6,125.13 L224.1,125.31 L224.6,126.36 L225.1,124.22 L225.6,126.61 L226.1,125.51 L226.6,124.71 L227.1,126.65 L227.6,125.18 L228.1,124.71 L228.6,125.64 L229.1,125.33 L229.6,127.2 L230.1,126.44 L230.6,127.28 L231.1,125.57 L231.6,127.09 L232.1,126.77 L232.6,125.45 L233.1,125.92 L233.6,125.69 L234.1,127.14 L234.6,127.13 L235.1,126.58 L235.6,127.31 L236.1,127.87 L236.6,127.63 L237.1,128.35 L237.6,127.78 L238.1,126.21 L238.6,126.28 L239.1,127.12 L239.6,127.4 L240.1,127.73 L240.6,128.26 L241.1,127.62 L241.6,126.09 L242.1,125.61 L242.6,126.62 L243.1,125.15 L243.6,124.76 L244.1,124.5 L244.6,124.06 L245.1,123.24 L245.6,123.66 L246.1,122.13 L246.6,122.57 L247.1,121.37 L247.6,119.97 L248.1,119.54 L248.6,119.98 L249.1,117.75 L249.6,118.07 L250.1,117.91 L250.6,119.15 L251.1,117.66 L251.6,118.47 L252.1,117.56 L252.6,118.45 L253.1,118.03 L253.6,119.12 L254.1,119.52 L254.6,121.61 L255.1,121.87 L255.6,122.76 L256.1,123.74 L256.6,126.26 L257.1,126.28 L257.6,127.53 L258.1,129.32 L258.6,129.86 L259.1,131.15 L259.6,133.48 L260.1,134.57 L260.6,136.56 L261.1,135.78 L261.6,136.4 L262.1,138.39 L262.6,138.55 L263.1,139.13 L263.6,139.7 L264.1,141.56 L264.6,140.65 L265.1,141.55 L265.6,141.83 L266.1,142.66 L266.6,142.73 L267.1,142.92 L267.6,143.4 L268.1,143.62 L268.6,144.17" fill="none" stroke="#8a8a8a" stroke-width="0.6" opacity="0.9"/>
<path d="M190.1,144.09 L190.6,143.86 L191.1,143.52 L191.6,143.01 L192.1,142.24 L192.6,141.14 L193.1,139.57 L193.6,137.38 L194.1,134.42 L194.6,130.51 L195.1,125.49 L195.6,119.21 L196.1,111.6 L196.6,102.67 L197.1,92.52 L197.6,81.41 L198.1,69.72 L198.6,57.94 L199.1,46.68 L199.6,36.34 L200.1,29.15 L200.6,25.22 L201.1,21.32 L201.6,20.87 L202.1,24.33 L202.6,28.5 L203.1,33.52 L203.6,42.46 L204.1,52.52 L204.6,63.1 L205.1,73.64 L205.6,83.64 L206.1,92.75 L206.6,100.78 L207.1,107.49 L207.6,113 L208.1,116.29 L208.6,120.23 L209.1,121.77 L209.6,123.47 L210.1,123.89 L210.6,124.49 L211.1,124.31 L211.6,126.24 L212.1,124.28 L212.6,125.57 L213.1,124.76 L213.6,125.26 L214.1,125.29 L214.6,124.54 L215.1,124.7 L215.6,125 L216.1,123.87 L216.6,124.36 L217.1,126.07 L217.6,125.48 L218.1,124.94 L218.6,123.64 L219.1,123.81 L219.6,124.92 L220.1,126.6 L220.6,124.4 L221.1,125.55 L221.6,125.2 L222.1,124.9 L222.6,125.22 L223.1,125.77 L223.6,124.58 L224.1,126.25 L224.6,126.33 L225.1,125.05 L225.6,127.11 L226.1,126.91 L226.6,125.4 L227.1,127.79 L227.6,125.58 L228.1,126.1 L228.6,126.98 L229.1,127.52 L229.6,126.13 L230.1,125.84 L230.6,128.24 L231.1,127.33 L231.6,127.21 L232.1,127.46 L232.6,128.05 L233.1,128.68 L233.6,127.47 L234.1,126.88 L234.6,129.2 L235.1,128.79 L235.6,127.1 L236.1,127.25 L236.6,127.69 L237.1,129.65 L237.6,127.6 L238.1,126.84 L238.6,126.78 L239.1,127.65 L239.6,129.55 L240.1,127.09 L240.6,128.83 L241.1,127.39 L241.6,126.26 L242.1,126.73 L242.6,128.15 L243.1,127.32 L243.6,125.03 L244.1,126.86 L244.6,124.95 L245.1,124.97 L245.6,125.12 L246.1,123.1 L246.6,124.17 L247.1,123.3 L247.6,121.83 L248.1,122.12 L248.6,121.57 L249.1,119.49 L249.6,118.54 L250.1,117.78 L250.6,119.78 L251.1,118.79 L251.6,119.18 L252.1,118.51 L252.6,119.18 L253.1,118.33 L253.6,120.68 L254.1,122.42 L254.6,121.42 L255.1,124.09 L255.6,123.79 L256.1,125.38 L256.6,125.44 L257.1,127.81 L257.6,128.93 L258.1,131.32 L258.6,131.74 L259.1,133.88 L259.6,133.58 L260.1,135.4 L260.6,137.59 L261.1,138.25 L261.6,138.71 L262.1,138.42 L262.6,140.77 L263.1,139.84 L263.6,140.58 L264.1,142.63 L264.6,141.52 L265.1,143.31 L265.6,143.5 L266.1,142.85 L266.6,143.71 L267.1,143.08 L267.6,143.79 L268.1,144.08 L268.6,143.95" fill="none" stroke="#404040" stroke-width="0.65" opacity="1"/>
<path d="M207.6,125.02 L208.1,125.05 L208.6,125.01 L209.1,124.83 L209.6,124.54 L210.1,124.73 L210.6,124.69 L211.1,124.91 L211.6,124.39 L212.1,124.59 L212.6,124.52 L213.1,124.89 L213.6,124.63 L214.1,124.98 L214.6,125.01 L215.1,125.12 L215.6,125.08 L216.1,125.44 L216.6,125.78 L217.1,125.93 L217.6,125.89 L218.1,126.11 L218.6,125.53 L219.1,125.95 L219.6,125.83 L220.1,126.53 L220.6,126.25 L221.1,126.01 L221.6,126.33 L222.1,126.58 L222.6,126.64 L223.1,127.03 L223.6,127.09 L224.1,127.18 L224.6,127.11 L225.1,127.19 L225.6,126.89 L226.1,127.57 L226.6,127.59 L227.1,127.67 L227.6,127.86 L228.1,127.85 L228.6,127.99 L229.1,127.89 L229.6,128.35 L230.1,127.73 L230.6,128.27 L231.1,127.92 L231.6,128.21 L232.1,128.32 L232.6,128.58 L233.1,128.3 L233.6,129.06 L234.1,128.72 L234.6,129.12 L235.1,128.91 L235.6,128.97 L236.1,129.52 L236.6,129.59 L237.1,129.83 L237.6,129.77 L238.1,130 L238.6,129.85 L239.1,129.51 L239.6,130.11 L240.1,130.28 L240.6,130.28 L241.1,130.57 L241.6,130.35 L242.1,130.52 L242.6,131.13 L243.1,131.25 L243.6,131.1 L244.1,131.1 L244.6,131.57 L245.1,131.99 L245.6,131.83 L246.1,132.9 L246.6,133.18 L247.1,132.95 L247.6,133.61" fill="none" stroke="#3a3a4a" stroke-width="0.6" opacity="0.9"/>
<path d="M170.1,8.9 V147.1 M169.35,144.5 H276" stroke="#1e1e1e" stroke-width="1.5" fill="none"/>
<path d="M165.5,8.9 H170.1" stroke="#1e1e1e" stroke-width="1.3"/>
<path d="M165.5,55 H170.1" stroke="#1e1e1e" stroke-width="1.3"/>
<path d="M165.5,101.4 H170.1" stroke="#1e1e1e" stroke-width="1.3"/>
<path d="M200.1,144.5 V147.1" stroke="#1e1e1e" stroke-width="1.2"/>
<path d="M253.6,144.5 V147.1" stroke="#1e1e1e" stroke-width="1.2"/>
<text x="199.8" y="160.8" font-size="12" text-anchor="middle" font-weight="normal" fill="#1a1a1a" >2N</text>
<text x="253.5" y="160.8" font-size="12" text-anchor="middle" font-weight="normal" fill="#1a1a1a" >4N</text>
<text x="209.6" y="9.4" font-size="10.35" text-anchor="start" font-weight="normal" fill="#1a1a1a" >G0/G1: 51.1%</text>
<text x="209.6" y="22" font-size="10.35" text-anchor="start" font-weight="normal" fill="#1a1a1a" >S: 34.4%</text>
<text x="209.6" y="34.6" font-size="10.35" text-anchor="start" font-weight="normal" fill="#1a1a1a" >G2/M: 14.5%</text>
<text x="222.7" y="177.7" font-size="12" text-anchor="middle" font-weight="normal" fill="#1a1a1a" >BMSC/vector</text>
<clipPath id="cra3"><path d="M304.6,144.5 L304.6,144.41 L305.1,144.34 L305.6,144.22 L306.1,144.03 L306.6,143.7 L307.1,143.2 L307.6,142.43 L308.1,141.27 L308.6,139.6 L309.1,137.25 L309.6,134.02 L310.1,129.73 L310.6,124.2 L311.1,117.26 L311.6,108.85 L312.1,98.98 L312.6,87.79 L313.1,75.57 L313.6,62.77 L314.1,49.95 L314.6,37.79 L315.1,27 L315.6,23.5 L316.1,23.5 L316.6,23.5 L317.1,23.5 L317.6,23.5 L318.1,23.5 L318.6,29.02 L319.1,40.14 L319.6,52.48 L320.1,65.35 L320.6,78.08 L321.1,90.12 L321.6,101.06 L322.1,110.65 L322.6,118.76 L323.1,125.41 L323.6,130.69 L324.1,134.75 L324.6,137.78 L325.1,139.99 L325.6,141.54 L326.1,142.61 L326.6,143.32 L327.1,143.78 L327.6,144.07 L328.1,144.25 L328.6,144.36 L329.1,144.42 L329.1,144.5 Z"/><path d="M349.6,144.5 L349.6,144.45 L350.1,144.43 L350.6,144.4 L351.1,144.37 L351.6,144.33 L352.1,144.28 L352.6,144.22 L353.1,144.14 L353.6,144.04 L354.1,143.92 L354.6,143.78 L355.1,143.61 L355.6,143.41 L356.1,143.17 L356.6,142.9 L357.1,142.59 L357.6,142.23 L358.1,141.84 L358.6,141.41 L359.1,140.93 L359.6,140.41 L360.1,139.87 L360.6,139.29 L361.1,138.69 L361.6,138.08 L362.1,137.46 L362.6,136.85 L363.1,136.25 L363.6,135.69 L364.1,135.17 L364.6,134.7 L365.1,134.3 L365.6,133.97 L366.1,133.73 L366.6,133.57 L367.1,133.5 L367.6,133.53 L368.1,133.65 L368.6,133.86 L369.1,134.16 L369.6,134.53 L370.1,134.98 L370.6,135.48 L371.1,136.03 L371.6,136.61 L372.1,137.21 L372.6,137.83 L373.1,138.44 L373.6,139.05 L374.1,139.64 L374.6,140.2 L375.1,140.73 L375.6,141.22 L376.1,141.67 L376.6,142.08 L377.1,142.45 L377.6,142.78 L378.1,143.07 L378.6,143.32 L379.1,143.53 L379.6,143.71 L380.1,143.87 L380.6,143.99 L381.1,144.1 L381.6,144.19 L382.1,144.26 L382.6,144.31 L383.1,144.36 L383.6,144.39 L384.1,144.42 L384.6,144.44 L384.6,144.5 Z"/></clipPath>
<path d="M305.1,144.5 L305.1,144.44 L305.6,144.41 L306.1,144.39 L306.6,144.35 L307.1,144.3 L307.6,144.24 L308.1,144.17 L308.6,144.08 L309.1,143.97 L309.6,143.84 L310.1,143.68 L310.6,143.51 L311.1,143.3 L311.6,143.07 L312.1,142.81 L312.6,142.52 L313.1,142.21 L313.6,141.87 L314.1,141.51 L314.6,141.13 L315.1,140.73 L315.6,140.32 L316.1,139.91 L316.6,139.49 L317.1,139.08 L317.6,138.68 L318.1,138.3 L318.6,137.93 L319.1,137.59 L319.6,137.26 L320.1,136.97 L320.6,136.71 L321.1,136.47 L321.6,136.26 L322.1,136.08 L322.6,135.93 L323.1,135.8 L323.6,135.69 L324.1,135.6 L324.6,135.53 L325.1,135.48 L325.6,135.44 L326.1,135.41 L326.6,135.39 L327.1,135.38 L327.6,135.38 L328.1,135.38 L328.6,135.38 L329.1,135.39 L329.6,135.4 L330.1,135.41 L330.6,135.42 L331.1,135.43 L331.6,135.44 L332.1,135.46 L332.6,135.47 L333.1,135.49 L333.6,135.5 L334.1,135.52 L334.6,135.53 L335.1,135.54 L335.6,135.56 L336.1,135.57 L336.6,135.59 L337.1,135.6 L337.6,135.62 L338.1,135.63 L338.6,135.65 L339.1,135.66 L339.6,135.68 L340.1,135.69 L340.6,135.71 L341.1,135.72 L341.6,135.74 L342.1,135.75 L342.6,135.77 L343.1,135.78 L343.6,135.8 L344.1,135.81 L344.6,135.83 L345.1,135.84 L345.6,135.86 L346.1,135.87 L346.6,135.89 L347.1,135.9 L347.6,135.92 L348.1,135.93 L348.6,135.95 L349.1,135.96 L349.6,135.98 L350.1,136 L350.6,136.01 L351.1,136.03 L351.6,136.05 L352.1,136.07 L352.6,136.09 L353.1,136.12 L353.6,136.14 L354.1,136.17 L354.6,136.21 L355.1,136.24 L355.6,136.29 L356.1,136.34 L356.6,136.39 L357.1,136.45 L357.6,136.53 L358.1,136.61 L358.6,136.7 L359.1,136.81 L359.6,136.93 L360.1,137.06 L360.6,137.21 L361.1,137.38 L361.6,137.56 L362.1,137.75 L362.6,137.97 L363.1,138.2 L363.6,138.44 L364.1,138.7 L364.6,138.97 L365.1,139.25 L365.6,139.54 L366.1,139.84 L366.6,140.14 L367.1,140.44 L367.6,140.74 L368.1,141.04 L368.6,141.33 L369.1,141.62 L369.6,141.9 L370.1,142.16 L370.6,142.41 L371.1,142.65 L371.6,142.87 L372.1,143.07 L372.6,143.26 L373.1,143.43 L373.6,143.58 L374.1,143.72 L374.6,143.84 L375.1,143.94 L375.6,144.04 L376.1,144.12 L376.6,144.18 L377.1,144.24 L377.6,144.29 L378.1,144.33 L378.6,144.37 L379.1,144.39 L379.6,144.42 L380.1,144.44 L380.1,144.5 Z" fill="url(#hb)"/>
<path d="M304.6,144.5 L304.6,144.41 L305.1,144.34 L305.6,144.22 L306.1,144.03 L306.6,143.7 L307.1,143.2 L307.6,142.43 L308.1,141.27 L308.6,139.6 L309.1,137.25 L309.6,134.02 L310.1,129.73 L310.6,124.2 L311.1,117.26 L311.6,108.85 L312.1,98.98 L312.6,87.79 L313.1,75.57 L313.6,62.77 L314.1,49.95 L314.6,37.79 L315.1,27 L315.6,23.5 L316.1,23.5 L316.6,23.5 L317.1,23.5 L317.6,23.5 L318.1,23.5 L318.6,29.02 L319.1,40.14 L319.6,52.48 L320.1,65.35 L320.6,78.08 L321.1,90.12 L321.6,101.06 L322.1,110.65 L322.6,118.76 L323.1,125.41 L323.6,130.69 L324.1,134.75 L324.6,137.78 L325.1,139.99 L325.6,141.54 L326.1,142.61 L326.6,143.32 L327.1,143.78 L327.6,144.07 L328.1,144.25 L328.6,144.36 L329.1,144.42 L329.1,144.5 Z" fill="#ee2a30"/>
<path d="M349.6,144.5 L349.6,144.45 L350.1,144.43 L350.6,144.4 L351.1,144.37 L351.6,144.33 L352.1,144.28 L352.6,144.22 L353.1,144.14 L353.6,144.04 L354.1,143.92 L354.6,143.78 L355.1,143.61 L355.6,143.41 L356.1,143.17 L356.6,142.9 L357.1,142.59 L357.6,142.23 L358.1,141.84 L358.6,141.41 L359.1,140.93 L359.6,140.41 L360.1,139.87 L360.6,139.29 L361.1,138.69 L361.6,138.08 L362.1,137.46 L362.6,136.85 L363.1,136.25 L363.6,135.69 L364.1,135.17 L364.6,134.7 L365.1,134.3 L365.6,133.97 L366.1,133.73 L366.6,133.57 L367.1,133.5 L367.6,133.53 L368.1,133.65 L368.6,133.86 L369.1,134.16 L369.6,134.53 L370.1,134.98 L370.6,135.48 L371.1,136.03 L371.6,136.61 L372.1,137.21 L372.6,137.83 L373.1,138.44 L373.6,139.05 L374.1,139.64 L374.6,140.2 L375.1,140.73 L375.6,141.22 L376.1,141.67 L376.6,142.08 L377.1,142.45 L377.6,142.78 L378.1,143.07 L378.6,143.32 L379.1,143.53 L379.6,143.71 L380.1,143.87 L380.6,143.99 L381.1,144.1 L381.6,144.19 L382.1,144.26 L382.6,144.31 L383.1,144.36 L383.6,144.39 L384.1,144.42 L384.6,144.44 L384.6,144.5 Z" fill="#ee2a30"/>
<path d="M305.1,144.5 L305.1,144.44 L305.6,144.41 L306.1,144.39 L306.6,144.35 L307.1,144.3 L307.6,144.24 L308.1,144.17 L308.6,144.08 L309.1,143.97 L309.6,143.84 L310.1,143.68 L310.6,143.51 L311.1,143.3 L311.6,143.07 L312.1,142.81 L312.6,142.52 L313.1,142.21 L313.6,141.87 L314.1,141.51 L314.6,141.13 L315.1,140.73 L315.6,140.32 L316.1,139.91 L316.6,139.49 L317.1,139.08 L317.6,138.68 L318.1,138.3 L318.6,137.93 L319.1,137.59 L319.6,137.26 L320.1,136.97 L320.6,136.71 L321.1,136.47 L321.6,136.26 L322.1,136.08 L322.6,135.93 L323.1,135.8 L323.6,135.69 L324.1,135.6 L324.6,135.53 L325.1,135.48 L325.6,135.44 L326.1,135.41 L326.6,135.39 L327.1,135.38 L327.6,135.38 L328.1,135.38 L328.6,135.38 L329.1,135.39 L329.6,135.4 L330.1,135.41 L330.6,135.42 L331.1,135.43 L331.6,135.44 L332.1,135.46 L332.6,135.47 L333.1,135.49 L333.6,135.5 L334.1,135.52 L334.6,135.53 L335.1,135.54 L335.6,135.56 L336.1,135.57 L336.6,135.59 L337.1,135.6 L337.6,135.62 L338.1,135.63 L338.6,135.65 L339.1,135.66 L339.6,135.68 L340.1,135.69 L340.6,135.71 L341.1,135.72 L341.6,135.74 L342.1,135.75 L342.6,135.77 L343.1,135.78 L343.6,135.8 L344.1,135.81 L344.6,135.83 L345.1,135.84 L345.6,135.86 L346.1,135.87 L346.6,135.89 L347.1,135.9 L347.6,135.92 L348.1,135.93 L348.6,135.95 L349.1,135.96 L349.6,135.98 L350.1,136 L350.6,136.01 L351.1,136.03 L351.6,136.05 L352.1,136.07 L352.6,136.09 L353.1,136.12 L353.6,136.14 L354.1,136.17 L354.6,136.21 L355.1,136.24 L355.6,136.29 L356.1,136.34 L356.6,136.39 L357.1,136.45 L357.6,136.53 L358.1,136.61 L358.6,136.7 L359.1,136.81 L359.6,136.93 L360.1,137.06 L360.6,137.21 L361.1,137.38 L361.6,137.56 L362.1,137.75 L362.6,137.97 L363.1,138.2 L363.6,138.44 L364.1,138.7 L364.6,138.97 L365.1,139.25 L365.6,139.54 L366.1,139.84 L366.6,140.14 L367.1,140.44 L367.6,140.74 L368.1,141.04 L368.6,141.33 L369.1,141.62 L369.6,141.9 L370.1,142.16 L370.6,142.41 L371.1,142.65 L371.6,142.87 L372.1,143.07 L372.6,143.26 L373.1,143.43 L373.6,143.58 L374.1,143.72 L374.6,143.84 L375.1,143.94 L375.6,144.04 L376.1,144.12 L376.6,144.18 L377.1,144.24 L377.6,144.29 L378.1,144.33 L378.6,144.37 L379.1,144.39 L379.6,144.42 L380.1,144.44 L380.1,144.5 Z" fill="url(#hr)" clip-path="url(#cra3)"/>
<path d="M304.6,144.5 L304.6,144.41 L305.1,144.34 L305.6,144.22 L306.1,144.03 L306.6,143.7 L307.1,143.2 L307.6,142.43 L308.1,141.27 L308.6,139.6 L309.1,137.25 L309.6,134.02 L310.1,129.73 L310.6,124.2 L311.1,117.26 L311.6,108.85 L312.1,98.98 L312.6,87.79 L313.1,75.57 L313.6,62.77 L314.1,49.95 L314.6,37.79 L315.1,27 L315.6,23.5 L316.1,23.5 L316.6,23.5 L317.1,23.5 L317.6,23.5 L318.1,23.5 L318.6,29.02 L319.1,40.14 L319.6,52.48 L320.1,65.35 L320.6,78.08 L321.1,90.12 L321.6,101.06 L322.1,110.65 L322.6,118.76 L323.1,125.41 L323.6,130.69 L324.1,134.75 L324.6,137.78 L325.1,139.99 L325.6,141.54 L326.1,142.61 L326.6,143.32 L327.1,143.78 L327.6,144.07 L328.1,144.25 L328.6,144.36 L329.1,144.42 L329.1,144.5 Z" fill="none" stroke="#8a0c12" stroke-width="0.7" opacity="0.75"/>
<path d="M349.6,144.5 L349.6,144.45 L350.1,144.43 L350.6,144.4 L351.1,144.37 L351.6,144.33 L352.1,144.28 L352.6,144.22 L353.1,144.14 L353.6,144.04 L354.1,143.92 L354.6,143.78 L355.1,143.61 L355.6,143.41 L356.1,143.17 L356.6,142.9 L357.1,142.59 L357.6,142.23 L358.1,141.84 L358.6,141.41 L359.1,140.93 L359.6,140.41 L360.1,139.87 L360.6,139.29 L361.1,138.69 L361.6,138.08 L362.1,137.46 L362.6,136.85 L363.1,136.25 L363.6,135.69 L364.1,135.17 L364.6,134.7 L365.1,134.3 L365.6,133.97 L366.1,133.73 L366.6,133.57 L367.1,133.5 L367.6,133.53 L368.1,133.65 L368.6,133.86 L369.1,134.16 L369.6,134.53 L370.1,134.98 L370.6,135.48 L371.1,136.03 L371.6,136.61 L372.1,137.21 L372.6,137.83 L373.1,138.44 L373.6,139.05 L374.1,139.64 L374.6,140.2 L375.1,140.73 L375.6,141.22 L376.1,141.67 L376.6,142.08 L377.1,142.45 L377.6,142.78 L378.1,143.07 L378.6,143.32 L379.1,143.53 L379.6,143.71 L380.1,143.87 L380.6,143.99 L381.1,144.1 L381.6,144.19 L382.1,144.26 L382.6,144.31 L383.1,144.36 L383.6,144.39 L384.1,144.42 L384.6,144.44 L384.6,144.5 Z" fill="none" stroke="#8a0c12" stroke-width="0.5" opacity="0.6"/>
<path d="M305.6,144.14 L306.1,143.92 L306.6,143.57 L307.1,143.03 L307.6,142.21 L308.1,141.01 L308.6,139.29 L309.1,136.88 L309.6,133.59 L310.1,129.25 L310.6,123.66 L311.1,116.68 L311.6,108.25 L312.1,98.37 L312.6,87.19 L313.1,75.02 L313.6,62.28 L314.1,49.54 L314.6,37.48 L315.1,26.17 L315.6,20.73 L316.1,17.43 L316.6,14.7 L317.1,15.05 L317.6,18.14 L318.1,21.25 L318.6,27.54 L319.1,37.86 L319.6,49.36 L320.1,61.38 L320.6,73.33 L321.1,84.67 L321.6,94.98 L322.1,103.98 L322.6,111.7 L323.1,117.74 L323.6,123.13 L324.1,125.93 L324.6,128.57 L325.1,129.61 L325.6,131.21 L326.1,133.38 L326.6,133.67 L327.1,133.25 L327.6,135.09 L328.1,134.01 L328.6,134.78 L329.1,134.89 L329.6,135.01 L330.1,133.13 L330.6,134.76 L331.1,134.42 L331.6,134.03 L332.1,132.77 L332.6,134.82 L333.1,133.86 L333.6,133.6 L334.1,132.74 L334.6,132.91 L335.1,132.81 L335.6,134.34 L336.1,134 L336.6,134.16 L337.1,132.81 L337.6,132.63 L338.1,134.74 L338.6,134.69 L339.1,134.56 L339.6,134.57 L340.1,133.93 L340.6,133.68 L341.1,134.54 L341.6,135.23 L342.1,134.16 L342.6,134.31 L343.1,133.81 L343.6,132.82 L344.1,133.52 L344.6,133.99 L345.1,133.74 L345.6,133.6 L346.1,135.24 L346.6,133.06 L347.1,133.38 L347.6,133.15 L348.1,133.37 L348.6,134.44 L349.1,134.44 L349.6,135.22 L350.1,133.85 L350.6,135.35 L351.1,135.34 L351.6,134.97 L352.1,135.09 L352.6,134.62 L353.1,135.35 L353.6,135.45 L354.1,135.01 L354.6,135.08 L355.1,134.32 L355.6,135.1 L356.1,132.78 L356.6,133.3 L357.1,134.34 L357.6,133.87 L358.1,133.39 L358.6,133.09 L359.1,133.43 L359.6,131.22 L360.1,130.52 L360.6,131.54 L361.1,131.13 L361.6,131.8 L362.1,131.4 L362.6,130.43 L363.1,130.31 L363.6,128.57 L364.1,130.06 L364.6,130.24 L365.1,127.71 L365.6,128.76 L366.1,129.79 L366.6,128.87 L367.1,130.41 L367.6,129.38 L368.1,128.58 L368.6,129.32 L369.1,130.26 L369.6,131.97 L370.1,132.32 L370.6,133.51 L371.1,132.64 L371.6,133.98 L372.1,134.07 L372.6,135.96 L373.1,136.95 L373.6,136.1 L374.1,136.31 L374.6,137.27 L375.1,137.97 L375.6,138.48 L376.1,139.17 L376.6,140.94 L377.1,140.6 L377.6,141.37 L378.1,142.51 L378.6,142.79 L379.1,142.48 L379.6,142.78 L380.1,142.22 L380.6,142.13 L381.1,143.23 L381.6,142.93 L382.1,143.24 L382.6,143.58 L383.1,144.11" fill="none" stroke="#8a8a8a" stroke-width="0.6" opacity="0.9"/>
<path d="M305.6,144.14 L306.1,143.92 L306.6,143.57 L307.1,143.03 L307.6,142.21 L308.1,141.01 L308.6,139.29 L309.1,136.88 L309.6,133.59 L310.1,129.25 L310.6,123.66 L311.1,116.68 L311.6,108.25 L312.1,98.37 L312.6,87.19 L313.1,75.02 L313.6,62.28 L314.1,49.54 L314.6,37.48 L315.1,26.17 L315.6,20.73 L316.1,17.43 L316.6,14.7 L317.1,15.05 L317.6,18.14 L318.1,21.25 L318.6,27.54 L319.1,37.86 L319.6,49.36 L320.1,61.38 L320.6,73.33 L321.1,84.67 L321.6,95.03 L322.1,104.17 L322.6,111.81 L323.1,118.03 L323.6,122.63 L324.1,127.4 L324.6,129.31 L325.1,132.03 L325.6,133.35 L326.1,132.82 L326.6,134.14 L327.1,134.3 L327.6,133.87 L328.1,133.48 L328.6,134.89 L329.1,134.36 L329.6,134.65 L330.1,134.59 L330.6,134.01 L331.1,134.71 L331.6,134.45 L332.1,134.6 L332.6,133.2 L333.1,133.93 L333.6,133.4 L334.1,133.21 L334.6,135.27 L335.1,134.38 L335.6,133.24 L336.1,133.56 L336.6,135.68 L337.1,135.74 L337.6,134.79 L338.1,135.92 L338.6,135.43 L339.1,135.94 L339.6,134.17 L340.1,133.84 L340.6,133.52 L341.1,135.76 L341.6,134.09 L342.1,134.27 L342.6,135.84 L343.1,133.64 L343.6,133.4 L344.1,135.66 L344.6,133.47 L345.1,135.15 L345.6,134.9 L346.1,133.41 L346.6,133.9 L347.1,135.93 L347.6,135.13 L348.1,134.9 L348.6,135.44 L349.1,135.89 L349.6,135.53 L350.1,134.33 L350.6,136.45 L351.1,134.85 L351.6,135.2 L352.1,136.46 L352.6,135.51 L353.1,134.61 L353.6,134.92 L354.1,136.21 L354.6,133.39 L355.1,133.9 L355.6,133.26 L356.1,135.73 L356.6,135.1 L357.1,135.61 L357.6,133.19 L358.1,134.48 L358.6,134.64 L359.1,133.48 L359.6,131.7 L360.1,131.64 L360.6,132.97 L361.1,132.94 L361.6,130.26 L362.1,130.95 L362.6,130.22 L363.1,131.73 L363.6,131.55 L364.1,129.42 L364.6,130.02 L365.1,130.96 L365.6,128.32 L366.1,129.26 L366.6,128.87 L367.1,131.23 L367.6,129.19 L368.1,131.92 L368.6,129.97 L369.1,131.71 L369.6,132.63 L370.1,132.62 L370.6,132.16 L371.1,134.84 L371.6,135.98 L372.1,135.51 L372.6,137.1 L373.1,138.2 L373.6,138.73 L374.1,139.72 L374.6,139.88 L375.1,140.13 L375.6,140.68 L376.1,139.81 L376.6,141.65 L377.1,141.43 L377.6,142.72 L378.1,142.54 L378.6,143.71 L379.1,143.31 L379.6,144.07 L380.1,142.65 L380.6,143.28 L381.1,144.07 L381.6,143.8 L382.1,143.49 L383.1,144.02" fill="none" stroke="#404040" stroke-width="0.65" opacity="1"/>
<path d="M324.6,135.38 L325.1,135.09 L325.6,135.57 L326.1,135.15 L326.6,135.23 L327.1,135.27 L327.6,135.45 L328.1,135.5 L328.6,135.74 L329.1,135.68 L329.6,135.74 L330.1,135.21 L330.6,135.61 L331.1,135.7 L331.6,135.78 L332.1,135.18 L332.6,135.18 L333.1,135.35 L333.6,135.67 L334.1,135.72 L334.6,135.7 L335.1,135.58 L335.6,135.83 L336.1,135.62 L336.6,135.78 L337.1,135.23 L337.6,135.24 L338.1,135.6 L338.6,135.85 L339.1,135.29 L339.6,135.83 L340.1,135.81 L340.6,136.11 L341.1,135.82 L341.6,135.76 L342.1,135.75 L342.6,136.01 L343.1,135.78 L343.6,136.19 L344.1,136 L344.6,136.16 L345.1,135.92 L345.6,136.22 L346.1,136.25 L346.6,136.04 L347.1,136.12 L347.6,135.85 L348.1,135.91 L348.6,135.75 L349.1,135.84 L349.6,135.81 L350.1,135.69 L350.6,136.1 L351.1,136.17 L351.6,135.66 L352.1,136.35 L352.6,135.92 L353.1,136 L353.6,136.51 L354.1,135.91 L354.6,135.89 L355.1,136.14 L355.6,136.1 L356.1,136.09 L356.6,136.68 L357.1,136.44 L357.6,136.52 L358.1,136.34 L358.6,136.46 L359.1,136.55 L359.6,136.86 L360.1,136.75 L360.6,137.07 L361.1,137.22 L361.6,137.77" fill="none" stroke="#3a3a4a" stroke-width="0.6" opacity="0.9"/>
<path d="M288.1,8.9 V147.1 M287.35,144.5 H386.7" stroke="#1e1e1e" stroke-width="1.5" fill="none"/>
<path d="M283.5,8.9 H288.1" stroke="#1e1e1e" stroke-width="1.3"/>
<path d="M283.5,55 H288.1" stroke="#1e1e1e" stroke-width="1.3"/>
<path d="M283.5,101.4 H288.1" stroke="#1e1e1e" stroke-width="1.3"/>
<path d="M318.3,144.5 V147.1" stroke="#1e1e1e" stroke-width="1.2"/>
<path d="M369.9,144.5 V147.1" stroke="#1e1e1e" stroke-width="1.2"/>
<text x="317.4" y="160.8" font-size="12" text-anchor="middle" font-weight="normal" fill="#1a1a1a" >2N</text>
<text x="369" y="160.8" font-size="12" text-anchor="middle" font-weight="normal" fill="#1a1a1a" >4N</text>
<text x="326" y="9.4" font-size="10.35" text-anchor="start" font-weight="normal" fill="#1a1a1a" >G0/G1: 73.5%</text>
<text x="326" y="22" font-size="10.35" text-anchor="start" font-weight="normal" fill="#1a1a1a" >S: 11.2%</text>
<text x="326" y="34.6" font-size="10.35" text-anchor="start" font-weight="normal" fill="#1a1a1a" >G2/M: 9.3%</text>
<text x="338.2" y="177.2" font-size="12" text-anchor="middle" font-weight="normal" fill="#1a1a1a" >BMSC/IFN-<tspan font-family="Liberation Serif" font-style="italic">&#946;</tspan></text>
<clipPath id="crb1"><path d="M71.2,372.5 L71.2,372.44 L71.7,372.37 L72.2,372.26 L72.7,372.04 L73.2,371.67 L73.7,371.06 L74.2,370.08 L74.7,368.57 L75.2,366.35 L75.7,363.2 L76.2,358.91 L76.7,353.28 L77.2,346.2 L77.7,337.63 L78.2,327.67 L78.7,316.57 L79.2,304.74 L79.7,292.68 L80.2,280.99 L80.7,270.26 L81.2,261.05 L81.7,258.5 L82.2,258.5 L82.7,258.5 L83.2,258.5 L83.7,258.5 L84.2,258.5 L84.7,258.5 L85.2,258.5 L85.7,266.37 L86.2,276.55 L86.7,287.92 L87.2,299.91 L87.7,311.9 L88.2,323.35 L88.7,333.8 L89.2,342.95 L89.7,350.63 L90.2,356.83 L90.7,361.63 L91.2,365.21 L91.7,367.78 L92.2,369.55 L92.7,370.72 L93.2,371.46 L93.7,371.92 L94.2,372.18 L94.7,372.34 L95.2,372.42 L95.2,372.5 Z"/><path d="M117.7,372.5 L117.7,372.44 L118.2,372.42 L118.7,372.39 L119.2,372.36 L119.7,372.31 L120.2,372.25 L120.7,372.17 L121.2,372.07 L121.7,371.95 L122.2,371.8 L122.7,371.62 L123.2,371.4 L123.7,371.13 L124.2,370.82 L124.7,370.46 L125.2,370.03 L125.7,369.55 L126.2,369 L126.7,368.39 L127.2,367.72 L127.7,366.98 L128.2,366.19 L128.7,365.34 L129.2,364.46 L129.7,363.54 L130.2,362.61 L130.7,361.68 L131.2,360.77 L131.7,359.89 L132.2,359.07 L132.7,358.32 L133.2,357.66 L133.7,357.11 L134.2,356.68 L134.7,356.38 L135.2,356.23 L135.7,356.21 L136.2,356.34 L136.7,356.61 L137.2,357.02 L137.7,357.55 L138.2,358.18 L138.7,358.92 L139.2,359.73 L139.7,360.59 L140.2,361.5 L140.7,362.43 L141.2,363.36 L141.7,364.28 L142.2,365.17 L142.7,366.02 L143.2,366.83 L143.7,367.58 L144.2,368.26 L144.7,368.89 L145.2,369.45 L145.7,369.94 L146.2,370.38 L146.7,370.75 L147.2,371.07 L147.7,371.35 L148.2,371.58 L148.7,371.77 L149.2,371.92 L149.7,372.05 L150.2,372.15 L150.7,372.23 L151.2,372.3 L151.7,372.35 L152.2,372.39 L152.7,372.42 L153.2,372.44 L153.2,372.5 Z"/></clipPath>
<path d="M70.2,372.5 L70.2,372.43 L70.7,372.41 L71.2,372.37 L71.7,372.32 L72.2,372.26 L72.7,372.18 L73.2,372.08 L73.7,371.96 L74.2,371.8 L74.7,371.6 L75.2,371.37 L75.7,371.08 L76.2,370.75 L76.7,370.35 L77.2,369.9 L77.7,369.38 L78.2,368.79 L78.7,368.14 L79.2,367.43 L79.7,366.65 L80.2,365.82 L80.7,364.94 L81.2,364.02 L81.7,363.07 L82.2,362.11 L82.7,361.14 L83.2,360.17 L83.7,359.23 L84.2,358.32 L84.7,357.45 L85.2,356.64 L85.7,355.88 L86.2,355.19 L86.7,354.57 L87.2,354.02 L87.7,353.55 L88.2,353.14 L88.7,352.81 L89.2,352.53 L89.7,352.32 L90.2,352.16 L90.7,352.04 L91.2,351.97 L91.7,351.94 L92.2,351.93 L92.7,351.95 L93.2,351.99 L93.7,352.05 L94.2,352.12 L94.7,352.2 L95.2,352.29 L95.7,352.39 L96.2,352.49 L96.7,352.6 L97.2,352.71 L97.7,352.82 L98.2,352.93 L98.7,353.04 L99.2,353.16 L99.7,353.27 L100.2,353.39 L100.7,353.5 L101.2,353.62 L101.7,353.73 L102.2,353.84 L102.7,353.96 L103.2,354.07 L103.7,354.19 L104.2,354.3 L104.7,354.42 L105.2,354.53 L105.7,354.65 L106.2,354.76 L106.7,354.88 L107.2,354.99 L107.7,355.11 L108.2,355.22 L108.7,355.34 L109.2,355.45 L109.7,355.57 L110.2,355.68 L110.7,355.8 L111.2,355.91 L111.7,356.03 L112.2,356.14 L112.7,356.26 L113.2,356.37 L113.7,356.49 L114.2,356.6 L114.7,356.72 L115.2,356.83 L115.7,356.95 L116.2,357.07 L116.7,357.18 L117.2,357.3 L117.7,357.41 L118.2,357.53 L118.7,357.65 L119.2,357.77 L119.7,357.89 L120.2,358.01 L120.7,358.14 L121.2,358.26 L121.7,358.39 L122.2,358.53 L122.7,358.67 L123.2,358.81 L123.7,358.97 L124.2,359.13 L124.7,359.3 L125.2,359.48 L125.7,359.67 L126.2,359.88 L126.7,360.11 L127.2,360.35 L127.7,360.61 L128.2,360.89 L128.7,361.19 L129.2,361.51 L129.7,361.86 L130.2,362.22 L130.7,362.61 L131.2,363.01 L131.7,363.44 L132.2,363.88 L132.7,364.33 L133.2,364.8 L133.7,365.28 L134.2,365.76 L134.7,366.24 L135.2,366.72 L135.7,367.19 L136.2,367.65 L136.7,368.1 L137.2,368.53 L137.7,368.94 L138.2,369.33 L138.7,369.7 L139.2,370.04 L139.7,370.35 L140.2,370.64 L140.7,370.9 L141.2,371.13 L141.7,371.34 L142.2,371.52 L142.7,371.69 L143.2,371.82 L143.7,371.94 L144.2,372.05 L144.7,372.13 L145.2,372.21 L145.7,372.27 L146.2,372.31 L146.7,372.35 L147.2,372.39 L147.7,372.41 L148.2,372.43 L148.7,372.45 L148.7,372.5 Z" fill="url(#hb)"/>
<path d="M71.2,372.5 L71.2,372.44 L71.7,372.37 L72.2,372.26 L72.7,372.04 L73.2,371.67 L73.7,371.06 L74.2,370.08 L74.7,368.57 L75.2,366.35 L75.7,363.2 L76.2,358.91 L76.7,353.28 L77.2,346.2 L77.7,337.63 L78.2,327.67 L78.7,316.57 L79.2,304.74 L79.7,292.68 L80.2,280.99 L80.7,270.26 L81.2,261.05 L81.7,258.5 L82.2,258.5 L82.7,258.5 L83.2,258.5 L83.7,258.5 L84.2,258.5 L84.7,258.5 L85.2,258.5 L85.7,266.37 L86.2,276.55 L86.7,287.92 L87.2,299.91 L87.7,311.9 L88.2,323.35 L88.7,333.8 L89.2,342.95 L89.7,350.63 L90.2,356.83 L90.7,361.63 L91.2,365.21 L91.7,367.78 L92.2,369.55 L92.7,370.72 L93.2,371.46 L93.7,371.92 L94.2,372.18 L94.7,372.34 L95.2,372.42 L95.2,372.5 Z" fill="#ee2a30"/>
<path d="M117.7,372.5 L117.7,372.44 L118.2,372.42 L118.7,372.39 L119.2,372.36 L119.7,372.31 L120.2,372.25 L120.7,372.17 L121.2,372.07 L121.7,371.95 L122.2,371.8 L122.7,371.62 L123.2,371.4 L123.7,371.13 L124.2,370.82 L124.7,370.46 L125.2,370.03 L125.7,369.55 L126.2,369 L126.7,368.39 L127.2,367.72 L127.7,366.98 L128.2,366.19 L128.7,365.34 L129.2,364.46 L129.7,363.54 L130.2,362.61 L130.7,361.68 L131.2,360.77 L131.7,359.89 L132.2,359.07 L132.7,358.32 L133.2,357.66 L133.7,357.11 L134.2,356.68 L134.7,356.38 L135.2,356.23 L135.7,356.21 L136.2,356.34 L136.7,356.61 L137.2,357.02 L137.7,357.55 L138.2,358.18 L138.7,358.92 L139.2,359.73 L139.7,360.59 L140.2,361.5 L140.7,362.43 L141.2,363.36 L141.7,364.28 L142.2,365.17 L142.7,366.02 L143.2,366.83 L143.7,367.58 L144.2,368.26 L144.7,368.89 L145.2,369.45 L145.7,369.94 L146.2,370.38 L146.7,370.75 L147.2,371.07 L147.7,371.35 L148.2,371.58 L148.7,371.77 L149.2,371.92 L149.7,372.05 L150.2,372.15 L150.7,372.23 L151.2,372.3 L151.7,372.35 L152.2,372.39 L152.7,372.42 L153.2,372.44 L153.2,372.5 Z" fill="#ee2a30"/>
<path d="M70.2,372.5 L70.2,372.43 L70.7,372.41 L71.2,372.37 L71.7,372.32 L72.2,372.26 L72.7,372.18 L73.2,372.08 L73.7,371.96 L74.2,371.8 L74.7,371.6 L75.2,371.37 L75.7,371.08 L76.2,370.75 L76.7,370.35 L77.2,369.9 L77.7,369.38 L78.2,368.79 L78.7,368.14 L79.2,367.43 L79.7,366.65 L80.2,365.82 L80.7,364.94 L81.2,364.02 L81.7,363.07 L82.2,362.11 L82.7,361.14 L83.2,360.17 L83.7,359.23 L84.2,358.32 L84.7,357.45 L85.2,356.64 L85.7,355.88 L86.2,355.19 L86.7,354.57 L87.2,354.02 L87.7,353.55 L88.2,353.14 L88.7,352.81 L89.2,352.53 L89.7,352.32 L90.2,352.16 L90.7,352.04 L91.2,351.97 L91.7,351.94 L92.2,351.93 L92.7,351.95 L93.2,351.99 L93.7,352.05 L94.2,352.12 L94.7,352.2 L95.2,352.29 L95.7,352.39 L96.2,352.49 L96.7,352.6 L97.2,352.71 L97.7,352.82 L98.2,352.93 L98.7,353.04 L99.2,353.16 L99.7,353.27 L100.2,353.39 L100.7,353.5 L101.2,353.62 L101.7,353.73 L102.2,353.84 L102.7,353.96 L103.2,354.07 L103.7,354.19 L104.2,354.3 L104.7,354.42 L105.2,354.53 L105.7,354.65 L106.2,354.76 L106.7,354.88 L107.2,354.99 L107.7,355.11 L108.2,355.22 L108.7,355.34 L109.2,355.45 L109.7,355.57 L110.2,355.68 L110.7,355.8 L111.2,355.91 L111.7,356.03 L112.2,356.14 L112.7,356.26 L113.2,356.37 L113.7,356.49 L114.2,356.6 L114.7,356.72 L115.2,356.83 L115.7,356.95 L116.2,357.07 L116.7,357.18 L117.2,357.3 L117.7,357.41 L118.2,357.53 L118.7,357.65 L119.2,357.77 L119.7,357.89 L120.2,358.01 L120.7,358.14 L121.2,358.26 L121.7,358.39 L122.2,358.53 L122.7,358.67 L123.2,358.81 L123.7,358.97 L124.2,359.13 L124.7,359.3 L125.2,359.48 L125.7,359.67 L126.2,359.88 L126.7,360.11 L127.2,360.35 L127.7,360.61 L128.2,360.89 L128.7,361.19 L129.2,361.51 L129.7,361.86 L130.2,362.22 L130.7,362.61 L131.2,363.01 L131.7,363.44 L132.2,363.88 L132.7,364.33 L133.2,364.8 L133.7,365.28 L134.2,365.76 L134.7,366.24 L135.2,366.72 L135.7,367.19 L136.2,367.65 L136.7,368.1 L137.2,368.53 L137.7,368.94 L138.2,369.33 L138.7,369.7 L139.2,370.04 L139.7,370.35 L140.2,370.64 L140.7,370.9 L141.2,371.13 L141.7,371.34 L142.2,371.52 L142.7,371.69 L143.2,371.82 L143.7,371.94 L144.2,372.05 L144.7,372.13 L145.2,372.21 L145.7,372.27 L146.2,372.31 L146.7,372.35 L147.2,372.39 L147.7,372.41 L148.2,372.43 L148.7,372.45 L148.7,372.5 Z" fill="url(#hr)" clip-path="url(#crb1)"/>
<path d="M71.2,372.5 L71.2,372.44 L71.7,372.37 L72.2,372.26 L72.7,372.04 L73.2,371.67 L73.7,371.06 L74.2,370.08 L74.7,368.57 L75.2,366.35 L75.7,363.2 L76.2,358.91 L76.7,353.28 L77.2,346.2 L77.7,337.63 L78.2,327.67 L78.7,316.57 L79.2,304.74 L79.7,292.68 L80.2,280.99 L80.7,270.26 L81.2,261.05 L81.7,258.5 L82.2,258.5 L82.7,258.5 L83.2,258.5 L83.7,258.5 L84.2,258.5 L84.7,258.5 L85.2,258.5 L85.7,266.37 L86.2,276.55 L86.7,287.92 L87.2,299.91 L87.7,311.9 L88.2,323.35 L88.7,333.8 L89.2,342.95 L89.7,350.63 L90.2,356.83 L90.7,361.63 L91.2,365.21 L91.7,367.78 L92.2,369.55 L92.7,370.72 L93.2,371.46 L93.7,371.92 L94.2,372.18 L94.7,372.34 L95.2,372.42 L95.2,372.5 Z" fill="none" stroke="#8a0c12" stroke-width="0.7" opacity="0.75"/>
<path d="M117.7,372.5 L117.7,372.44 L118.2,372.42 L118.7,372.39 L119.2,372.36 L119.7,372.31 L120.2,372.25 L120.7,372.17 L121.2,372.07 L121.7,371.95 L122.2,371.8 L122.7,371.62 L123.2,371.4 L123.7,371.13 L124.2,370.82 L124.7,370.46 L125.2,370.03 L125.7,369.55 L126.2,369 L126.7,368.39 L127.2,367.72 L127.7,366.98 L128.2,366.19 L128.7,365.34 L129.2,364.46 L129.7,363.54 L130.2,362.61 L130.7,361.68 L131.2,360.77 L131.7,359.89 L132.2,359.07 L132.7,358.32 L133.2,357.66 L133.7,357.11 L134.2,356.68 L134.7,356.38 L135.2,356.23 L135.7,356.21 L136.2,356.34 L136.7,356.61 L137.2,357.02 L137.7,357.55 L138.2,358.18 L138.7,358.92 L139.2,359.73 L139.7,360.59 L140.2,361.5 L140.7,362.43 L141.2,363.36 L141.7,364.28 L142.2,365.17 L142.7,366.02 L143.2,366.83 L143.7,367.58 L144.2,368.26 L144.7,368.89 L145.2,369.45 L145.7,369.94 L146.2,370.38 L146.7,370.75 L147.2,371.07 L147.7,371.35 L148.2,371.58 L148.7,371.77 L149.2,371.92 L149.7,372.05 L150.2,372.15 L150.7,372.23 L151.2,372.3 L151.7,372.35 L152.2,372.39 L152.7,372.42 L153.2,372.44 L153.2,372.5 Z" fill="none" stroke="#8a0c12" stroke-width="0.5" opacity="0.6"/>
<path d="M72.2,372.05 L72.7,371.77 L73.2,371.33 L73.7,370.63 L74.2,369.55 L74.7,367.93 L75.2,365.59 L75.7,362.32 L76.2,357.9 L76.7,352.17 L77.2,344.98 L77.7,336.34 L78.2,326.35 L78.7,315.27 L79.2,303.49 L79.7,291.53 L80.2,279.99 L80.7,269.45 L81.2,260.45 L81.7,256.5 L82.2,252.39 L82.7,246.17 L83.2,242.04 L83.7,243.96 L84.2,250 L84.7,255.21 L85.2,257.56 L85.7,260.9 L86.2,268.71 L86.7,277.61 L87.2,287.19 L87.7,297.05 L88.2,306.72 L88.7,315.87 L89.2,324.08 L89.7,331.25 L90.2,337.33 L90.7,341.55 L91.2,345.86 L91.7,347.59 L92.2,350.46 L92.7,350.98 L93.2,352.22 L93.7,352.48 L94.2,350.83 L94.7,351.28 L95.2,352.51 L95.7,350.9 L96.2,352.55 L96.7,351.98 L97.2,350.72 L97.7,351.23 L98.2,352.63 L98.7,350.33 L99.2,352.37 L99.7,352.31 L100.2,351.03 L100.7,352.26 L101.2,352.43 L101.7,353.1 L102.2,353.16 L102.7,351.98 L103.2,352.97 L103.7,352.14 L104.2,352.85 L104.7,352.75 L105.2,351.55 L105.7,352.9 L106.2,352.77 L106.7,352.13 L107.2,354.02 L107.7,354.21 L108.2,352.36 L108.7,352.71 L109.2,354.31 L109.7,354.58 L110.2,353.26 L110.7,352.85 L111.2,354.9 L111.7,353.06 L112.2,353.35 L112.7,354.19 L113.2,354.77 L113.7,355.71 L114.2,356 L114.7,353.71 L115.2,355.7 L115.7,354.6 L116.2,355.87 L116.7,354.5 L117.2,355.2 L117.7,356.08 L118.2,356.48 L118.7,355.15 L119.2,356.92 L119.7,356.57 L120.2,355.76 L120.7,355.04 L121.2,355.67 L121.7,356.53 L122.2,354.84 L122.7,356.63 L123.2,357.02 L123.7,356.22 L124.2,355.58 L124.7,356.34 L125.2,355.76 L125.7,354.92 L126.2,354 L126.7,354.71 L127.2,353.61 L127.7,351.7 L128.2,350.89 L128.7,351.12 L129.2,350.4 L129.7,350.04 L130.2,350.56 L130.7,350.23 L131.2,349.71 L131.7,346.88 L132.2,347 L132.7,345.99 L133.2,348.21 L133.7,346.52 L134.2,346.95 L134.7,346.49 L135.2,347.89 L135.7,346.6 L136.2,349.62 L136.7,349.15 L137.2,349.54 L137.7,350.11 L138.2,351.62 L138.7,352.86 L139.2,353.85 L139.7,354.78 L140.2,357.5 L140.7,357.89 L141.2,358.56 L141.7,359.83 L142.2,362.15 L142.7,362.25 L143.2,363.06 L143.7,364.73 L144.2,365.44 L144.7,366.82 L145.2,366.99 L145.7,367.55 L146.2,369.4 L146.7,368.55 L147.2,368.25 L147.7,369 L148.2,369.77 L148.7,370.74 L149.2,370.61 L149.7,371.16 L150.2,371.58 L150.7,371.56 L151.2,372.15 L151.7,372.05" fill="none" stroke="#8a8a8a" stroke-width="0.6" opacity="0.9"/>
<path d="M72.2,372.05 L72.7,371.77 L73.2,371.33 L73.7,370.63 L74.2,369.55 L74.7,367.93 L75.2,365.59 L75.7,362.32 L76.2,357.9 L76.7,352.17 L77.2,344.98 L77.7,336.34 L78.2,326.35 L78.7,315.27 L79.2,303.49 L79.7,291.53 L80.2,279.99 L80.7,269.45 L81.2,260.45 L81.7,256.5 L82.2,252.39 L82.7,246.17 L83.2,242.04 L83.7,243.96 L84.2,250 L84.7,255.21 L85.2,257.56 L85.7,260.9 L86.2,268.71 L86.7,277.61 L87.2,287.19 L87.7,297.04 L88.2,306.74 L88.7,315.91 L89.2,324.15 L89.7,331.25 L90.2,337.58 L90.7,342.39 L91.2,346.03 L91.7,348.01 L92.2,350.25 L92.7,351.21 L93.2,351.53 L93.7,352.99 L94.2,351.97 L94.7,351.65 L95.2,354.04 L95.7,351.4 L96.2,351.93 L96.7,353.62 L97.2,352.58 L97.7,352.03 L98.2,351.16 L98.7,352.77 L99.2,352.22 L99.7,351.34 L100.2,351.65 L100.7,351.28 L101.2,352.81 L101.7,352.34 L102.2,353.78 L102.7,352.33 L103.2,352.14 L103.7,352.78 L104.2,352.66 L104.7,354.29 L105.2,352.34 L105.7,352.21 L106.2,352.33 L106.7,353.77 L107.2,353.12 L107.7,354.65 L108.2,352.99 L108.7,353.27 L109.2,354.91 L109.7,355.82 L110.2,354.86 L110.7,354.65 L111.2,354.11 L111.7,355.07 L112.2,356.56 L112.7,354.33 L113.2,356.68 L113.7,354.58 L114.2,356.58 L114.7,356.2 L115.2,354.96 L115.7,357.01 L116.2,357.09 L116.7,356.09 L117.2,355.58 L117.7,355.32 L118.2,355.87 L118.7,355.18 L119.2,356.62 L119.7,355.32 L120.2,357.96 L120.7,357.59 L121.2,356.69 L121.7,357.39 L122.2,356.04 L122.7,356.24 L123.2,356.49 L123.7,355.39 L124.2,356.05 L124.7,356.57 L125.2,356.07 L125.7,354.35 L126.2,353.79 L126.7,355.42 L127.2,353 L127.7,352.11 L128.2,352.86 L128.7,352.11 L129.2,352.59 L129.7,350.95 L130.2,350.42 L130.7,349.5 L131.2,350.67 L131.7,347.34 L132.2,348.27 L132.7,348.29 L133.2,346.86 L133.7,347.48 L134.2,347.74 L134.7,347.32 L135.2,349.52 L135.7,348.58 L136.2,349.58 L136.7,348.7 L137.2,349.68 L137.7,352.64 L138.2,353.11 L138.7,355.31 L139.2,355.61 L139.7,355.71 L140.2,356.72 L140.7,359.24 L141.2,360.95 L141.7,362.52 L142.2,362.38 L142.7,362.53 L143.2,365.91 L143.7,364.88 L144.2,367.98 L144.7,368.22 L145.2,368.79 L145.7,368.05 L146.2,369.62 L146.7,369.99 L147.2,369.72 L147.7,371.34 L148.2,370.26 L148.7,371.75 L149.2,371.32 L149.7,371.89 L150.2,372.08 L150.7,371.94 L151.2,372.14" fill="none" stroke="#404040" stroke-width="0.65" opacity="1"/>
<path d="M90.2,352.39 L90.7,351.94 L91.2,351.86 L91.7,351.91 L92.2,351.65 L92.7,351.86 L93.2,351.71 L93.7,352.26 L94.2,351.93 L94.7,351.96 L95.2,351.97 L95.7,352.54 L96.2,352.64 L96.7,352.26 L97.2,352.93 L97.7,352.42 L98.2,352.62 L98.7,353.34 L99.2,353.37 L99.7,353.09 L100.2,353.58 L100.7,353.82 L101.2,353.35 L101.7,353.79 L102.2,353.61 L102.7,354.26 L103.2,354.15 L103.7,354.04 L104.2,354.69 L104.7,354.66 L105.2,354.39 L105.7,354.32 L106.2,354.39 L106.7,355.19 L107.2,354.99 L107.7,354.9 L108.2,355.22 L108.7,355.19 L109.2,355.7 L109.7,355.91 L110.2,356 L110.7,356.17 L111.2,355.87 L111.7,356.02 L112.2,356.09 L112.7,356.54 L113.2,356.63 L113.7,356.73 L114.2,356.33 L114.7,356.33 L115.2,356.49 L115.7,357.27 L116.2,357.42 L116.7,356.82 L117.2,357.33 L117.7,357.2 L118.2,357.67 L118.7,357.68 L119.2,357.76 L119.7,357.94 L120.2,357.93 L120.7,358.52 L121.2,358.1 L121.7,358.12 L122.2,358.78 L122.7,358.7 L123.2,358.62 L123.7,359.04 L124.2,359.37 L124.7,359.57 L125.2,359.47 L125.7,360.06 L126.2,359.57 L126.7,359.87 L127.2,360.19 L127.7,360.32 L128.2,360.79 L128.7,361.27 L129.2,361.43 L129.7,361.85 L130.2,361.83" fill="none" stroke="#3a3a4a" stroke-width="0.6" opacity="0.9"/>
<path d="M53.7,236.5 V375.1 M52.95,372.5 H154.5" stroke="#1e1e1e" stroke-width="1.5" fill="none"/>
<path d="M49.1,236.5 H53.7" stroke="#1e1e1e" stroke-width="1.3"/>
<path d="M49.1,282.6 H53.7" stroke="#1e1e1e" stroke-width="1.3"/>
<path d="M49.1,329 H53.7" stroke="#1e1e1e" stroke-width="1.3"/>
<path d="M83.8,372.5 V375.1" stroke="#1e1e1e" stroke-width="1.2"/>
<path d="M135.4,372.5 V375.1" stroke="#1e1e1e" stroke-width="1.2"/>
<text x="45.4" y="240.8" font-size="12.3" text-anchor="end" font-weight="normal" fill="#1a1a1a" >6000</text>
<text x="45.4" y="286.9" font-size="12.3" text-anchor="end" font-weight="normal" fill="#1a1a1a" >4000</text>
<text x="45.4" y="333.3" font-size="12.3" text-anchor="end" font-weight="normal" fill="#1a1a1a" >2000</text>
<text x="45.4" y="376.8" font-size="12.3" text-anchor="end" font-weight="normal" fill="#1a1a1a" >0</text>
<text x="83" y="387.4" font-size="12" text-anchor="middle" font-weight="normal" fill="#1a1a1a" >2N</text>
<text x="132.9" y="387.4" font-size="12" text-anchor="middle" font-weight="normal" fill="#1a1a1a" >4N</text>
<text x="91.9" y="235.6" font-size="10.35" text-anchor="start" font-weight="normal" fill="#1a1a1a" >G0/G1: 51.0%</text>
<text x="91.9" y="248.2" font-size="10.35" text-anchor="start" font-weight="normal" fill="#1a1a1a" >S: 34.1%</text>
<text x="91.9" y="260.8" font-size="10.35" text-anchor="start" font-weight="normal" fill="#1a1a1a" >G2/M: 14.9%</text>
<text x="103.8" y="402.8" font-size="12" text-anchor="middle" font-weight="normal" fill="#1a1a1a" >DMEM</text>
<clipPath id="crb2"><path d="M187.3,371.4 L187.3,371.31 L187.8,371.23 L188.3,371.1 L188.8,370.87 L189.3,370.49 L189.8,369.88 L190.3,368.94 L190.8,367.54 L191.3,365.51 L191.8,362.67 L192.3,358.82 L192.8,353.78 L193.3,347.41 L193.8,339.64 L194.3,330.5 L194.8,320.15 L195.3,308.9 L195.8,297.19 L196.3,285.59 L196.8,274.72 L197.3,265.21 L197.8,262.4 L198.3,262.4 L198.8,262.4 L199.3,262.4 L199.8,262.4 L200.3,262.4 L200.8,263.52 L201.3,272.69 L201.8,283.34 L202.3,294.85 L202.8,306.58 L203.3,317.96 L203.8,328.52 L204.3,337.92 L204.8,345.97 L205.3,352.62 L205.8,357.91 L206.3,361.98 L206.8,365.01 L207.3,367.19 L207.8,368.7 L208.3,369.72 L208.8,370.39 L209.3,370.81 L209.8,371.06 L210.3,371.21 L210.8,371.3 L211.3,371.35 L211.3,371.4 Z"/><path d="M230.3,371.4 L230.3,371.34 L230.8,371.32 L231.3,371.3 L231.8,371.26 L232.3,371.22 L232.8,371.16 L233.3,371.1 L233.8,371.01 L234.3,370.91 L234.8,370.78 L235.3,370.62 L235.8,370.44 L236.3,370.22 L236.8,369.96 L237.3,369.65 L237.8,369.3 L238.3,368.9 L238.8,368.45 L239.3,367.94 L239.8,367.38 L240.3,366.76 L240.8,366.09 L241.3,365.38 L241.8,364.62 L242.3,363.82 L242.8,363 L243.3,362.17 L243.8,361.33 L244.3,360.5 L244.8,359.7 L245.3,358.94 L245.8,358.23 L246.3,357.6 L246.8,357.05 L247.3,356.6 L247.8,356.25 L248.3,356.02 L248.8,355.91 L249.3,355.92 L249.8,356.06 L250.3,356.31 L250.8,356.68 L251.3,357.15 L251.8,357.72 L252.3,358.37 L252.8,359.09 L253.3,359.86 L253.8,360.67 L254.3,361.5 L254.8,362.33 L255.3,363.17 L255.8,363.98 L256.3,364.77 L256.8,365.52 L257.3,366.23 L257.8,366.89 L258.3,367.5 L258.8,368.05 L259.3,368.54 L259.8,368.99 L260.3,369.38 L260.8,369.72 L261.3,370.01 L261.8,370.26 L262.3,370.48 L262.8,370.66 L263.3,370.81 L263.8,370.93 L264.3,371.03 L264.8,371.11 L265.3,371.18 L265.8,371.23 L266.3,371.27 L266.8,371.3 L267.3,371.33 L267.8,371.34 L267.8,371.4 Z"/></clipPath>
<path d="M185.8,371.4 L185.8,371.35 L186.3,371.33 L186.8,371.3 L187.3,371.26 L187.8,371.21 L188.3,371.14 L188.8,371.06 L189.3,370.95 L189.8,370.82 L190.3,370.65 L190.8,370.45 L191.3,370.21 L191.8,369.92 L192.3,369.58 L192.8,369.19 L193.3,368.74 L193.8,368.23 L194.3,367.66 L194.8,367.03 L195.3,366.34 L195.8,365.6 L196.3,364.81 L196.8,363.99 L197.3,363.13 L197.8,362.26 L198.3,361.37 L198.8,360.49 L199.3,359.63 L199.8,358.79 L200.3,357.98 L200.8,357.22 L201.3,356.51 L201.8,355.86 L202.3,355.28 L202.8,354.75 L203.3,354.3 L203.8,353.91 L204.3,353.58 L204.8,353.32 L205.3,353.11 L205.8,352.95 L206.3,352.83 L206.8,352.76 L207.3,352.72 L207.8,352.71 L208.3,352.72 L208.8,352.76 L209.3,352.81 L209.8,352.88 L210.3,352.96 L210.8,353.04 L211.3,353.13 L211.8,353.23 L212.3,353.33 L212.8,353.43 L213.3,353.54 L213.8,353.65 L214.3,353.75 L214.8,353.86 L215.3,353.97 L215.8,354.08 L216.3,354.19 L216.8,354.3 L217.3,354.41 L217.8,354.52 L218.3,354.63 L218.8,354.74 L219.3,354.85 L219.8,354.96 L220.3,355.07 L220.8,355.18 L221.3,355.29 L221.8,355.4 L222.3,355.51 L222.8,355.62 L223.3,355.73 L223.8,355.84 L224.3,355.96 L224.8,356.07 L225.3,356.18 L225.8,356.29 L226.3,356.4 L226.8,356.51 L227.3,356.62 L227.8,356.73 L228.3,356.84 L228.8,356.95 L229.3,357.06 L229.8,357.17 L230.3,357.28 L230.8,357.4 L231.3,357.51 L231.8,357.62 L232.3,357.74 L232.8,357.85 L233.3,357.97 L233.8,358.09 L234.3,358.22 L234.8,358.34 L235.3,358.47 L235.8,358.61 L236.3,358.75 L236.8,358.9 L237.3,359.05 L237.8,359.21 L238.3,359.39 L238.8,359.57 L239.3,359.77 L239.8,359.98 L240.3,360.2 L240.8,360.44 L241.3,360.69 L241.8,360.96 L242.3,361.25 L242.8,361.56 L243.3,361.88 L243.8,362.22 L244.3,362.58 L244.8,362.95 L245.3,363.34 L245.8,363.73 L246.3,364.14 L246.8,364.56 L247.3,364.98 L247.8,365.4 L248.3,365.82 L248.8,366.23 L249.3,366.65 L249.8,367.05 L250.3,367.43 L250.8,367.81 L251.3,368.17 L251.8,368.51 L252.3,368.82 L252.8,369.12 L253.3,369.4 L253.8,369.65 L254.3,369.88 L254.8,370.09 L255.3,370.28 L255.8,370.45 L256.3,370.59 L256.8,370.72 L257.3,370.84 L257.8,370.93 L258.3,371.02 L258.8,371.09 L259.3,371.15 L259.8,371.2 L260.3,371.24 L260.8,371.27 L261.3,371.3 L261.8,371.32 L262.3,371.34 L262.3,371.4 Z" fill="url(#hb)"/>
<path d="M187.3,371.4 L187.3,371.31 L187.8,371.23 L188.3,371.1 L188.8,370.87 L189.3,370.49 L189.8,369.88 L190.3,368.94 L190.8,367.54 L191.3,365.51 L191.8,362.67 L192.3,358.82 L192.8,353.78 L193.3,347.41 L193.8,339.64 L194.3,330.5 L194.8,320.15 L195.3,308.9 L195.8,297.19 L196.3,285.59 L196.8,274.72 L197.3,265.21 L197.8,262.4 L198.3,262.4 L198.8,262.4 L199.3,262.4 L199.8,262.4 L200.3,262.4 L200.8,263.52 L201.3,272.69 L201.8,283.34 L202.3,294.85 L202.8,306.58 L203.3,317.96 L203.8,328.52 L204.3,337.92 L204.8,345.97 L205.3,352.62 L205.8,357.91 L206.3,361.98 L206.8,365.01 L207.3,367.19 L207.8,368.7 L208.3,369.72 L208.8,370.39 L209.3,370.81 L209.8,371.06 L210.3,371.21 L210.8,371.3 L211.3,371.35 L211.3,371.4 Z" fill="#ee2a30"/>
<path d="M230.3,371.4 L230.3,371.34 L230.8,371.32 L231.3,371.3 L231.8,371.26 L232.3,371.22 L232.8,371.16 L233.3,371.1 L233.8,371.01 L234.3,370.91 L234.8,370.78 L235.3,370.62 L235.8,370.44 L236.3,370.22 L236.8,369.96 L237.3,369.65 L237.8,369.3 L238.3,368.9 L238.8,368.45 L239.3,367.94 L239.8,367.38 L240.3,366.76 L240.8,366.09 L241.3,365.38 L241.8,364.62 L242.3,363.82 L242.8,363 L243.3,362.17 L243.8,361.33 L244.3,360.5 L244.8,359.7 L245.3,358.94 L245.8,358.23 L246.3,357.6 L246.8,357.05 L247.3,356.6 L247.8,356.25 L248.3,356.02 L248.8,355.91 L249.3,355.92 L249.8,356.06 L250.3,356.31 L250.8,356.68 L251.3,357.15 L251.8,357.72 L252.3,358.37 L252.8,359.09 L253.3,359.86 L253.8,360.67 L254.3,361.5 L254.8,362.33 L255.3,363.17 L255.8,363.98 L256.3,364.77 L256.8,365.52 L257.3,366.23 L257.8,366.89 L258.3,367.5 L258.8,368.05 L259.3,368.54 L259.8,368.99 L260.3,369.38 L260.8,369.72 L261.3,370.01 L261.8,370.26 L262.3,370.48 L262.8,370.66 L263.3,370.81 L263.8,370.93 L264.3,371.03 L264.8,371.11 L265.3,371.18 L265.8,371.23 L266.3,371.27 L266.8,371.3 L267.3,371.33 L267.8,371.34 L267.8,371.4 Z" fill="#ee2a30"/>
<path d="M185.8,371.4 L185.8,371.35 L186.3,371.33 L186.8,371.3 L187.3,371.26 L187.8,371.21 L188.3,371.14 L188.8,371.06 L189.3,370.95 L189.8,370.82 L190.3,370.65 L190.8,370.45 L191.3,370.21 L191.8,369.92 L192.3,369.58 L192.8,369.19 L193.3,368.74 L193.8,368.23 L194.3,367.66 L194.8,367.03 L195.3,366.34 L195.8,365.6 L196.3,364.81 L196.8,363.99 L197.3,363.13 L197.8,362.26 L198.3,361.37 L198.8,360.49 L199.3,359.63 L199.8,358.79 L200.3,357.98 L200.8,357.22 L201.3,356.51 L201.8,355.86 L202.3,355.28 L202.8,354.75 L203.3,354.3 L203.8,353.91 L204.3,353.58 L204.8,353.32 L205.3,353.11 L205.8,352.95 L206.3,352.83 L206.8,352.76 L207.3,352.72 L207.8,352.71 L208.3,352.72 L208.8,352.76 L209.3,352.81 L209.8,352.88 L210.3,352.96 L210.8,353.04 L211.3,353.13 L211.8,353.23 L212.3,353.33 L212.8,353.43 L213.3,353.54 L213.8,353.65 L214.3,353.75 L214.8,353.86 L215.3,353.97 L215.8,354.08 L216.3,354.19 L216.8,354.3 L217.3,354.41 L217.8,354.52 L218.3,354.63 L218.8,354.74 L219.3,354.85 L219.8,354.96 L220.3,355.07 L220.8,355.18 L221.3,355.29 L221.8,355.4 L222.3,355.51 L222.8,355.62 L223.3,355.73 L223.8,355.84 L224.3,355.96 L224.8,356.07 L225.3,356.18 L225.8,356.29 L226.3,356.4 L226.8,356.51 L227.3,356.62 L227.8,356.73 L228.3,356.84 L228.8,356.95 L229.3,357.06 L229.8,357.17 L230.3,357.28 L230.8,357.4 L231.3,357.51 L231.8,357.62 L232.3,357.74 L232.8,357.85 L233.3,357.97 L233.8,358.09 L234.3,358.22 L234.8,358.34 L235.3,358.47 L235.8,358.61 L236.3,358.75 L236.8,358.9 L237.3,359.05 L237.8,359.21 L238.3,359.39 L238.8,359.57 L239.3,359.77 L239.8,359.98 L240.3,360.2 L240.8,360.44 L241.3,360.69 L241.8,360.96 L242.3,361.25 L242.8,361.56 L243.3,361.88 L243.8,362.22 L244.3,362.58 L244.8,362.95 L245.3,363.34 L245.8,363.73 L246.3,364.14 L246.8,364.56 L247.3,364.98 L247.8,365.4 L248.3,365.82 L248.8,366.23 L249.3,366.65 L249.8,367.05 L250.3,367.43 L250.8,367.81 L251.3,368.17 L251.8,368.51 L252.3,368.82 L252.8,369.12 L253.3,369.4 L253.8,369.65 L254.3,369.88 L254.8,370.09 L255.3,370.28 L255.8,370.45 L256.3,370.59 L256.8,370.72 L257.3,370.84 L257.8,370.93 L258.3,371.02 L258.8,371.09 L259.3,371.15 L259.8,371.2 L260.3,371.24 L260.8,371.27 L261.3,371.3 L261.8,371.32 L262.3,371.34 L262.3,371.4 Z" fill="url(#hr)" clip-path="url(#crb2)"/>
<path d="M187.3,371.4 L187.3,371.31 L187.8,371.23 L188.3,371.1 L188.8,370.87 L189.3,370.49 L189.8,369.88 L190.3,368.94 L190.8,367.54 L191.3,365.51 L191.8,362.67 L192.3,358.82 L192.8,353.78 L193.3,347.41 L193.8,339.64 L194.3,330.5 L194.8,320.15 L195.3,308.9 L195.8,297.19 L196.3,285.59 L196.8,274.72 L197.3,265.21 L197.8,262.4 L198.3,262.4 L198.8,262.4 L199.3,262.4 L199.8,262.4 L200.3,262.4 L200.8,263.52 L201.3,272.69 L201.8,283.34 L202.3,294.85 L202.8,306.58 L203.3,317.96 L203.8,328.52 L204.3,337.92 L204.8,345.97 L205.3,352.62 L205.8,357.91 L206.3,361.98 L206.8,365.01 L207.3,367.19 L207.8,368.7 L208.3,369.72 L208.8,370.39 L209.3,370.81 L209.8,371.06 L210.3,371.21 L210.8,371.3 L211.3,371.35 L211.3,371.4 Z" fill="none" stroke="#8a0c12" stroke-width="0.7" opacity="0.75"/>
<path d="M230.3,371.4 L230.3,371.34 L230.8,371.32 L231.3,371.3 L231.8,371.26 L232.3,371.22 L232.8,371.16 L233.3,371.1 L233.8,371.01 L234.3,370.91 L234.8,370.78 L235.3,370.62 L235.8,370.44 L236.3,370.22 L236.8,369.96 L237.3,369.65 L237.8,369.3 L238.3,368.9 L238.8,368.45 L239.3,367.94 L239.8,367.38 L240.3,366.76 L240.8,366.09 L241.3,365.38 L241.8,364.62 L242.3,363.82 L242.8,363 L243.3,362.17 L243.8,361.33 L244.3,360.5 L244.8,359.7 L245.3,358.94 L245.8,358.23 L246.3,357.6 L246.8,357.05 L247.3,356.6 L247.8,356.25 L248.3,356.02 L248.8,355.91 L249.3,355.92 L249.8,356.06 L250.3,356.31 L250.8,356.68 L251.3,357.15 L251.8,357.72 L252.3,358.37 L252.8,359.09 L253.3,359.86 L253.8,360.67 L254.3,361.5 L254.8,362.33 L255.3,363.17 L255.8,363.98 L256.3,364.77 L256.8,365.52 L257.3,366.23 L257.8,366.89 L258.3,367.5 L258.8,368.05 L259.3,368.54 L259.8,368.99 L260.3,369.38 L260.8,369.72 L261.3,370.01 L261.8,370.26 L262.3,370.48 L262.8,370.66 L263.3,370.81 L263.8,370.93 L264.3,371.03 L264.8,371.11 L265.3,371.18 L265.8,371.23 L266.3,371.27 L266.8,371.3 L267.3,371.33 L267.8,371.34 L267.8,371.4 Z" fill="none" stroke="#8a0c12" stroke-width="0.5" opacity="0.6"/>
<path d="M187.8,371.06 L188.3,370.87 L188.8,370.57 L189.3,370.11 L189.8,369.41 L190.3,368.37 L190.8,366.85 L191.3,364.69 L191.8,361.73 L192.3,357.76 L192.8,352.61 L193.3,346.16 L193.8,338.33 L194.3,329.17 L194.8,318.86 L195.3,307.69 L195.8,296.11 L196.3,284.68 L196.8,274.01 L197.3,264.13 L197.8,258.52 L198.3,253.15 L198.8,247.83 L199.3,247.21 L199.8,251.93 L200.3,257.62 L200.8,261.96 L201.3,270.11 L201.8,279.58 L202.3,289.82 L202.8,300.25 L203.3,310.36 L203.8,319.71 L204.3,328.02 L204.8,334.98 L205.3,340.39 L205.8,344.52 L206.3,347.55 L206.8,350.52 L207.3,350.65 L207.8,352.46 L208.3,352.06 L208.8,353.7 L209.3,351.57 L209.8,352.44 L210.3,352.01 L210.8,353.2 L211.3,352.03 L211.8,352.03 L212.3,351.93 L212.8,352.5 L213.3,351.53 L213.8,352.55 L214.3,352.71 L214.8,353.1 L215.3,351.81 L215.8,353.38 L216.3,353.17 L216.8,353.67 L217.3,352.27 L217.8,352.6 L218.3,352.74 L218.8,354.15 L219.3,353.22 L219.8,353.58 L220.3,354.34 L220.8,354.68 L221.3,352.2 L221.8,354.59 L222.3,354.23 L222.8,354.43 L223.3,353.68 L223.8,355.14 L224.3,354.23 L224.8,354.61 L225.3,353.5 L225.8,355.77 L226.3,355.02 L226.8,354.71 L227.3,353.59 L227.8,354.87 L228.3,355.09 L228.8,354.68 L229.3,355.76 L229.8,356.54 L230.3,355.42 L230.8,354.44 L231.3,354.98 L231.8,356.3 L232.3,355.27 L232.8,354.89 L233.3,356.48 L233.8,355.65 L234.3,356.26 L234.8,356.54 L235.3,356.4 L235.8,356.55 L236.3,356.08 L236.8,356.76 L237.3,355.66 L237.8,356.27 L238.3,354.27 L238.8,354.39 L239.3,355.6 L239.8,353.22 L240.3,354.32 L240.8,353.1 L241.3,352.41 L241.8,352.47 L242.3,352.04 L242.8,351.12 L243.3,351.35 L243.8,348.93 L244.3,350.39 L244.8,348.09 L245.3,349.26 L245.8,348.72 L246.3,348.26 L246.8,349.03 L247.3,348.75 L247.8,348.22 L248.3,348.21 L248.8,347.39 L249.3,347.53 L249.8,350.55 L250.3,349.94 L250.8,351.76 L251.3,350.87 L251.8,353.05 L252.3,352.57 L252.8,354.52 L253.3,356.69 L253.8,358.1 L254.3,358.56 L254.8,358.02 L255.3,360.94 L255.8,361.1 L256.3,362.34 L256.8,363.31 L257.3,362.96 L257.8,365.27 L258.3,364.67 L258.8,365.45 L259.3,365.35 L259.8,366.94 L260.3,366.43 L260.8,368.05 L261.3,368.15 L261.8,368.45 L262.3,368.42 L262.8,368.76 L263.3,370.32 L263.8,370.51 L264.3,370.33 L264.8,370.39 L265.3,370.8 L265.8,371.05 L266.3,371" fill="none" stroke="#8a8a8a" stroke-width="0.6" opacity="0.9"/>
<path d="M187.8,371.06 L188.3,370.87 L188.8,370.57 L189.3,370.11 L189.8,369.41 L190.3,368.37 L190.8,366.85 L191.3,364.69 L191.8,361.73 L192.3,357.76 L192.8,352.61 L193.3,346.16 L193.8,338.33 L194.3,329.17 L194.8,318.86 L195.3,307.69 L195.8,296.11 L196.3,284.68 L196.8,274.01 L197.3,264.13 L197.8,258.52 L198.3,253.15 L198.8,247.83 L199.3,247.21 L199.8,251.93 L200.3,257.62 L200.8,261.96 L201.3,270.11 L201.8,279.58 L202.3,289.82 L202.8,300.25 L203.3,310.37 L203.8,319.75 L204.3,327.99 L204.8,335.06 L205.3,340.48 L205.8,344.87 L206.3,348.88 L206.8,349.74 L207.3,350.98 L207.8,352.03 L208.3,352.41 L208.8,353.02 L209.3,352.92 L209.8,353.01 L210.3,353.11 L210.8,353.98 L211.3,354.23 L211.8,352.36 L212.3,352.68 L212.8,354.26 L213.3,352.5 L213.8,352.61 L214.3,352.94 L214.8,352.2 L215.3,351.96 L215.8,353.53 L216.3,352.31 L216.8,353.35 L217.3,353.23 L217.8,353.8 L218.3,352.35 L218.8,353.92 L219.3,352.5 L219.8,354.45 L220.3,353.56 L220.8,352.95 L221.3,353.74 L221.8,354.78 L222.3,355.78 L222.8,354.69 L223.3,354.99 L223.8,353.9 L224.3,354.1 L224.8,353.61 L225.3,355.33 L225.8,355.55 L226.3,355.2 L226.8,354.75 L227.3,356.87 L227.8,356.57 L228.3,356.88 L228.8,356.45 L229.3,356.63 L229.8,354.72 L230.3,357.1 L230.8,355.01 L231.3,357.01 L231.8,357.36 L232.3,355.12 L232.8,357.83 L233.3,357.81 L233.8,357.79 L234.3,357.99 L234.8,357.02 L235.3,357.51 L235.8,357.61 L236.3,357.94 L236.8,355.77 L237.3,357.55 L237.8,356.8 L238.3,355.55 L238.8,354.3 L239.3,354.64 L239.8,354.11 L240.3,353.71 L240.8,352.96 L241.3,352.3 L241.8,353.87 L242.3,353.64 L242.8,351.39 L243.3,351.15 L243.8,350.62 L244.3,349.34 L244.8,350.7 L245.3,348.71 L245.8,349.23 L246.3,349 L246.8,349.39 L247.3,349.24 L247.8,348.42 L248.3,348.69 L248.8,347.95 L249.3,350.27 L249.8,349.52 L250.3,352.04 L250.8,351.14 L251.3,353.47 L251.8,352.32 L252.3,353 L252.8,356.17 L253.3,355.59 L253.8,358.45 L254.3,359.29 L254.8,360.97 L255.3,361.01 L255.8,363.03 L256.3,362.19 L256.8,363.48 L257.3,364.79 L257.8,364.69 L258.3,366.83 L258.8,367.17 L259.3,367.65 L259.8,369.21 L260.3,367.12 L260.8,369.77 L261.3,370.05 L261.8,368.63 L262.3,368.96 L262.8,370.05 L263.3,370.34 L263.8,370.93 L264.8,370.81 L266.3,371.07" fill="none" stroke="#404040" stroke-width="0.65" opacity="1"/>
<path d="M205.8,352.71 L206.3,352.75 L206.8,352.54 L207.3,352.72 L207.8,352.67 L208.3,352.47 L208.8,352.66 L209.3,352.91 L209.8,353.26 L210.3,352.72 L210.8,353.17 L211.3,353.19 L211.8,353.4 L212.3,353.29 L212.8,353.51 L213.3,353.27 L213.8,353.57 L214.3,353.71 L214.8,353.64 L215.3,354.02 L215.8,354.05 L216.3,353.99 L216.8,354.12 L217.3,354.22 L217.8,354.21 L218.3,354.59 L218.8,354.7 L219.3,355.1 L219.8,355.17 L220.3,355.13 L220.8,355.18 L221.3,354.97 L221.8,355.77 L222.3,355.63 L222.8,355.43 L223.3,355.77 L223.8,355.57 L224.3,356.23 L224.8,355.85 L225.3,356.23 L225.8,356.23 L226.3,356.75 L226.8,356.58 L227.3,356.37 L227.8,356.54 L228.3,356.79 L228.8,357.01 L229.3,357.43 L229.8,357.01 L230.3,357.33 L230.8,357.22 L231.3,357.42 L231.8,357.7 L232.3,357.44 L232.8,358.15 L233.3,357.61 L233.8,358.42 L234.3,357.84 L234.8,358.27 L235.3,358.52 L235.8,358.26 L236.3,358.74 L236.8,358.89 L237.3,359.4 L237.8,358.98 L238.3,359.28 L238.8,359.78 L239.3,360.08 L239.8,360.04 L240.3,359.85 L240.8,360.14 L241.3,360.72 L241.8,361.33 L242.3,360.99 L242.8,361.8 L243.3,361.7" fill="none" stroke="#3a3a4a" stroke-width="0.6" opacity="0.9"/>
<path d="M169.3,235.8 V374 M168.55,371.4 H272.2" stroke="#1e1e1e" stroke-width="1.5" fill="none"/>
<path d="M164.7,235.8 H169.3" stroke="#1e1e1e" stroke-width="1.3"/>
<path d="M164.7,281.9 H169.3" stroke="#1e1e1e" stroke-width="1.3"/>
<path d="M164.7,328.3 H169.3" stroke="#1e1e1e" stroke-width="1.3"/>
<path d="M199.4,371.4 V374" stroke="#1e1e1e" stroke-width="1.2"/>
<path d="M251,371.4 V374" stroke="#1e1e1e" stroke-width="1.2"/>
<text x="199.4" y="387.4" font-size="12" text-anchor="middle" font-weight="normal" fill="#1a1a1a" >2N</text>
<text x="253.5" y="387.4" font-size="12" text-anchor="middle" font-weight="normal" fill="#1a1a1a" >4N</text>
<text x="209.8" y="235.6" font-size="10.35" text-anchor="start" font-weight="normal" fill="#1a1a1a" >G0/G1: 50.1%</text>
<text x="209.8" y="248.2" font-size="10.35" text-anchor="start" font-weight="normal" fill="#1a1a1a" >S: 35.2%</text>
<text x="209.8" y="260.8" font-size="10.35" text-anchor="start" font-weight="normal" fill="#1a1a1a" >G2/M: 14.7%</text>
<text x="222.5" y="402.8" font-size="12" text-anchor="middle" font-weight="normal" fill="#1a1a1a" >BMSC/vector</text>
<clipPath id="crb3"><path d="M300.7,370.4 L300.7,370.31 L301.2,370.23 L301.7,370.1 L302.2,369.86 L302.7,369.47 L303.2,368.83 L303.7,367.84 L304.2,366.33 L304.7,364.12 L305.2,360.98 L305.7,356.67 L306.2,350.94 L306.7,343.6 L307.2,334.51 L307.7,323.68 L308.2,311.29 L308.7,297.7 L309.2,283.49 L309.7,269.4 L310.2,256.31 L310.7,245.4 L311.2,245.4 L311.7,245.4 L312.2,245.4 L312.7,245.4 L313.2,245.4 L313.7,249.31 L314.2,261.37 L314.7,274.97 L315.2,289.2 L315.7,303.25 L316.2,316.42 L316.7,328.21 L317.2,338.35 L317.7,346.74 L318.2,353.42 L318.7,358.55 L319.2,362.36 L319.7,365.1 L320.2,367.01 L320.7,368.29 L321.2,369.12 L321.7,369.65 L322.2,369.97 L322.7,370.16 L323.2,370.27 L323.7,370.33 L323.7,370.4 Z"/><path d="M347.7,370.4 L347.7,370.35 L348.2,370.33 L348.7,370.31 L349.2,370.28 L349.7,370.25 L350.2,370.21 L350.7,370.15 L351.2,370.09 L351.7,370.01 L352.2,369.92 L352.7,369.81 L353.2,369.68 L353.7,369.53 L354.2,369.35 L354.7,369.15 L355.2,368.93 L355.7,368.68 L356.2,368.4 L356.7,368.09 L357.2,367.77 L357.7,367.42 L358.2,367.05 L358.7,366.66 L359.2,366.27 L359.7,365.87 L360.2,365.48 L360.7,365.1 L361.2,364.73 L361.7,364.39 L362.2,364.08 L362.7,363.8 L363.2,363.58 L363.7,363.4 L364.2,363.28 L364.7,363.21 L365.2,363.2 L365.7,363.26 L366.2,363.37 L366.7,363.54 L367.2,363.75 L367.7,364.02 L368.2,364.32 L368.7,364.66 L369.2,365.02 L369.7,365.4 L370.2,365.8 L370.7,366.19 L371.2,366.59 L371.7,366.97 L372.2,367.34 L372.7,367.7 L373.2,368.03 L373.7,368.34 L374.2,368.62 L374.7,368.88 L375.2,369.11 L375.7,369.31 L376.2,369.49 L376.7,369.65 L377.2,369.78 L377.7,369.9 L378.2,370 L378.7,370.08 L379.2,370.14 L379.7,370.2 L380.2,370.24 L380.7,370.28 L380.7,370.4 Z"/></clipPath>
<path d="M300.7,370.4 L300.7,370.33 L301.2,370.31 L301.7,370.28 L302.2,370.24 L302.7,370.2 L303.2,370.14 L303.7,370.06 L304.2,369.98 L304.7,369.87 L305.2,369.75 L305.7,369.6 L306.2,369.43 L306.7,369.24 L307.2,369.03 L307.7,368.79 L308.2,368.53 L308.7,368.24 L309.2,367.94 L309.7,367.62 L310.2,367.28 L310.7,366.93 L311.2,366.58 L311.7,366.22 L312.2,365.87 L312.7,365.52 L313.2,365.18 L313.7,364.86 L314.2,364.56 L314.7,364.28 L315.2,364.02 L315.7,363.78 L316.2,363.57 L316.7,363.38 L317.2,363.22 L317.7,363.08 L318.2,362.97 L318.7,362.87 L319.2,362.79 L319.7,362.73 L320.2,362.68 L320.7,362.65 L321.2,362.62 L321.7,362.61 L322.2,362.6 L322.7,362.59 L323.2,362.6 L323.7,362.6 L324.2,362.61 L324.7,362.62 L325.2,362.63 L325.7,362.64 L326.2,362.66 L326.7,362.67 L327.2,362.69 L327.7,362.7 L328.2,362.72 L328.7,362.73 L329.2,362.75 L329.7,362.77 L330.2,362.78 L330.7,362.8 L331.2,362.81 L331.7,362.83 L332.2,362.85 L332.7,362.86 L333.2,362.88 L333.7,362.89 L334.2,362.91 L334.7,362.93 L335.2,362.94 L335.7,362.96 L336.2,362.97 L336.7,362.99 L337.2,363.01 L337.7,363.02 L338.2,363.04 L338.7,363.05 L339.2,363.07 L339.7,363.09 L340.2,363.1 L340.7,363.12 L341.2,363.14 L341.7,363.15 L342.2,363.17 L342.7,363.18 L343.2,363.2 L343.7,363.22 L344.2,363.23 L344.7,363.25 L345.2,363.26 L345.7,363.28 L346.2,363.3 L346.7,363.32 L347.2,363.33 L347.7,363.35 L348.2,363.37 L348.7,363.39 L349.2,363.41 L349.7,363.43 L350.2,363.45 L350.7,363.47 L351.2,363.5 L351.7,363.53 L352.2,363.56 L352.7,363.59 L353.2,363.63 L353.7,363.67 L354.2,363.72 L354.7,363.78 L355.2,363.84 L355.7,363.91 L356.2,363.99 L356.7,364.08 L357.2,364.18 L357.7,364.29 L358.2,364.41 L358.7,364.54 L359.2,364.69 L359.7,364.85 L360.2,365.02 L360.7,365.2 L361.2,365.4 L361.7,365.61 L362.2,365.82 L362.7,366.05 L363.2,366.28 L363.7,366.52 L364.2,366.76 L364.7,367 L365.2,367.25 L365.7,367.49 L366.2,367.73 L366.7,367.96 L367.2,368.18 L367.7,368.4 L368.2,368.61 L368.7,368.8 L369.2,368.98 L369.7,369.15 L370.2,369.31 L370.7,369.45 L371.2,369.58 L371.7,369.7 L372.2,369.8 L372.7,369.9 L373.2,369.98 L373.7,370.05 L374.2,370.11 L374.7,370.16 L375.2,370.2 L375.7,370.24 L376.2,370.27 L376.7,370.3 L377.2,370.32 L377.7,370.34 L377.7,370.4 Z" fill="url(#hb)"/>
<path d="M300.7,370.4 L300.7,370.31 L301.2,370.23 L301.7,370.1 L302.2,369.86 L302.7,369.47 L303.2,368.83 L303.7,367.84 L304.2,366.33 L304.7,364.12 L305.2,360.98 L305.7,356.67 L306.2,350.94 L306.7,343.6 L307.2,334.51 L307.7,323.68 L308.2,311.29 L308.7,297.7 L309.2,283.49 L309.7,269.4 L310.2,256.31 L310.7,245.4 L311.2,245.4 L311.7,245.4 L312.2,245.4 L312.7,245.4 L313.2,245.4 L313.7,249.31 L314.2,261.37 L314.7,274.97 L315.2,289.2 L315.7,303.25 L316.2,316.42 L316.7,328.21 L317.2,338.35 L317.7,346.74 L318.2,353.42 L318.7,358.55 L319.2,362.36 L319.7,365.1 L320.2,367.01 L320.7,368.29 L321.2,369.12 L321.7,369.65 L322.2,369.97 L322.7,370.16 L323.2,370.27 L323.7,370.33 L323.7,370.4 Z" fill="#ee2a30"/>
<path d="M347.7,370.4 L347.7,370.35 L348.2,370.33 L348.7,370.31 L349.2,370.28 L349.7,370.25 L350.2,370.21 L350.7,370.15 L351.2,370.09 L351.7,370.01 L352.2,369.92 L352.7,369.81 L353.2,369.68 L353.7,369.53 L354.2,369.35 L354.7,369.15 L355.2,368.93 L355.7,368.68 L356.2,368.4 L356.7,368.09 L357.2,367.77 L357.7,367.42 L358.2,367.05 L358.7,366.66 L359.2,366.27 L359.7,365.87 L360.2,365.48 L360.7,365.1 L361.2,364.73 L361.7,364.39 L362.2,364.08 L362.7,363.8 L363.2,363.58 L363.7,363.4 L364.2,363.28 L364.7,363.21 L365.2,363.2 L365.7,363.26 L366.2,363.37 L366.7,363.54 L367.2,363.75 L367.7,364.02 L368.2,364.32 L368.7,364.66 L369.2,365.02 L369.7,365.4 L370.2,365.8 L370.7,366.19 L371.2,366.59 L371.7,366.97 L372.2,367.34 L372.7,367.7 L373.2,368.03 L373.7,368.34 L374.2,368.62 L374.7,368.88 L375.2,369.11 L375.7,369.31 L376.2,369.49 L376.7,369.65 L377.2,369.78 L377.7,369.9 L378.2,370 L378.7,370.08 L379.2,370.14 L379.7,370.2 L380.2,370.24 L380.7,370.28 L380.7,370.4 Z" fill="#ee2a30"/>
<path d="M300.7,370.4 L300.7,370.33 L301.2,370.31 L301.7,370.28 L302.2,370.24 L302.7,370.2 L303.2,370.14 L303.7,370.06 L304.2,369.98 L304.7,369.87 L305.2,369.75 L305.7,369.6 L306.2,369.43 L306.7,369.24 L307.2,369.03 L307.7,368.79 L308.2,368.53 L308.7,368.24 L309.2,367.94 L309.7,367.62 L310.2,367.28 L310.7,366.93 L311.2,366.58 L311.7,366.22 L312.2,365.87 L312.7,365.52 L313.2,365.18 L313.7,364.86 L314.2,364.56 L314.7,364.28 L315.2,364.02 L315.7,363.78 L316.2,363.57 L316.7,363.38 L317.2,363.22 L317.7,363.08 L318.2,362.97 L318.7,362.87 L319.2,362.79 L319.7,362.73 L320.2,362.68 L320.7,362.65 L321.2,362.62 L321.7,362.61 L322.2,362.6 L322.7,362.59 L323.2,362.6 L323.7,362.6 L324.2,362.61 L324.7,362.62 L325.2,362.63 L325.7,362.64 L326.2,362.66 L326.7,362.67 L327.2,362.69 L327.7,362.7 L328.2,362.72 L328.7,362.73 L329.2,362.75 L329.7,362.77 L330.2,362.78 L330.7,362.8 L331.2,362.81 L331.7,362.83 L332.2,362.85 L332.7,362.86 L333.2,362.88 L333.7,362.89 L334.2,362.91 L334.7,362.93 L335.2,362.94 L335.7,362.96 L336.2,362.97 L336.7,362.99 L337.2,363.01 L337.7,363.02 L338.2,363.04 L338.7,363.05 L339.2,363.07 L339.7,363.09 L340.2,363.1 L340.7,363.12 L341.2,363.14 L341.7,363.15 L342.2,363.17 L342.7,363.18 L343.2,363.2 L343.7,363.22 L344.2,363.23 L344.7,363.25 L345.2,363.26 L345.7,363.28 L346.2,363.3 L346.7,363.32 L347.2,363.33 L347.7,363.35 L348.2,363.37 L348.7,363.39 L349.2,363.41 L349.7,363.43 L350.2,363.45 L350.7,363.47 L351.2,363.5 L351.7,363.53 L352.2,363.56 L352.7,363.59 L353.2,363.63 L353.7,363.67 L354.2,363.72 L354.7,363.78 L355.2,363.84 L355.7,363.91 L356.2,363.99 L356.7,364.08 L357.2,364.18 L357.7,364.29 L358.2,364.41 L358.7,364.54 L359.2,364.69 L359.7,364.85 L360.2,365.02 L360.7,365.2 L361.2,365.4 L361.7,365.61 L362.2,365.82 L362.7,366.05 L363.2,366.28 L363.7,366.52 L364.2,366.76 L364.7,367 L365.2,367.25 L365.7,367.49 L366.2,367.73 L366.7,367.96 L367.2,368.18 L367.7,368.4 L368.2,368.61 L368.7,368.8 L369.2,368.98 L369.7,369.15 L370.2,369.31 L370.7,369.45 L371.2,369.58 L371.7,369.7 L372.2,369.8 L372.7,369.9 L373.2,369.98 L373.7,370.05 L374.2,370.11 L374.7,370.16 L375.2,370.2 L375.7,370.24 L376.2,370.27 L376.7,370.3 L377.2,370.32 L377.7,370.34 L377.7,370.4 Z" fill="url(#hr)" clip-path="url(#crb3)"/>
<path d="M300.7,370.4 L300.7,370.31 L301.2,370.23 L301.7,370.1 L302.2,369.86 L302.7,369.47 L303.2,368.83 L303.7,367.84 L304.2,366.33 L304.7,364.12 L305.2,360.98 L305.7,356.67 L306.2,350.94 L306.7,343.6 L307.2,334.51 L307.7,323.68 L308.2,311.29 L308.7,297.7 L309.2,283.49 L309.7,269.4 L310.2,256.31 L310.7,245.4 L311.2,245.4 L311.7,245.4 L312.2,245.4 L312.7,245.4 L313.2,245.4 L313.7,249.31 L314.2,261.37 L314.7,274.97 L315.2,289.2 L315.7,303.25 L316.2,316.42 L316.7,328.21 L317.2,338.35 L317.7,346.74 L318.2,353.42 L318.7,358.55 L319.2,362.36 L319.7,365.1 L320.2,367.01 L320.7,368.29 L321.2,369.12 L321.7,369.65 L322.2,369.97 L322.7,370.16 L323.2,370.27 L323.7,370.33 L323.7,370.4 Z" fill="none" stroke="#8a0c12" stroke-width="0.7" opacity="0.75"/>
<path d="M347.7,370.4 L347.7,370.35 L348.2,370.33 L348.7,370.31 L349.2,370.28 L349.7,370.25 L350.2,370.21 L350.7,370.15 L351.2,370.09 L351.7,370.01 L352.2,369.92 L352.7,369.81 L353.2,369.68 L353.7,369.53 L354.2,369.35 L354.7,369.15 L355.2,368.93 L355.7,368.68 L356.2,368.4 L356.7,368.09 L357.2,367.77 L357.7,367.42 L358.2,367.05 L358.7,366.66 L359.2,366.27 L359.7,365.87 L360.2,365.48 L360.7,365.1 L361.2,364.73 L361.7,364.39 L362.2,364.08 L362.7,363.8 L363.2,363.58 L363.7,363.4 L364.2,363.28 L364.7,363.21 L365.2,363.2 L365.7,363.26 L366.2,363.37 L366.7,363.54 L367.2,363.75 L367.7,364.02 L368.2,364.32 L368.7,364.66 L369.2,365.02 L369.7,365.4 L370.2,365.8 L370.7,366.19 L371.2,366.59 L371.7,366.97 L372.2,367.34 L372.7,367.7 L373.2,368.03 L373.7,368.34 L374.2,368.62 L374.7,368.88 L375.2,369.11 L375.7,369.31 L376.2,369.49 L376.7,369.65 L377.2,369.78 L377.7,369.9 L378.2,370 L378.7,370.08 L379.2,370.14 L379.7,370.2 L380.2,370.24 L380.7,370.28 L380.7,370.4 Z" fill="none" stroke="#8a0c12" stroke-width="0.5" opacity="0.6"/>
<path d="M301.7,369.99 L302.2,369.72 L302.7,369.29 L303.2,368.61 L303.7,367.57 L304.2,366.01 L304.7,363.74 L305.2,360.55 L305.7,356.18 L306.2,350.41 L306.7,343.03 L307.2,333.93 L307.7,323.1 L308.2,310.74 L308.7,297.2 L309.2,283.06 L309.7,269.06 L310.2,255.99 L310.7,244.15 L311.2,242.17 L311.7,239.88 L312.2,239.15 L312.7,240.72 L313.2,243.08 L313.7,247.98 L314.2,259.23 L314.7,271.96 L315.2,285.36 L315.7,298.64 L316.2,311.14 L316.7,322.41 L317.2,332.17 L317.7,340.33 L318.2,346.13 L318.7,351.28 L319.2,354.58 L319.7,357.41 L320.2,358.27 L320.7,359.1 L321.2,360.83 L321.7,361.84 L322.2,359.69 L322.7,359.98 L323.2,362.31 L323.7,360.88 L324.2,360.54 L324.7,361.25 L325.2,360.37 L325.7,359.75 L326.2,360.7 L326.7,361.21 L327.2,361.72 L327.7,361.58 L328.2,361.85 L328.7,361.96 L329.2,361.71 L329.7,360.08 L330.2,360.89 L330.7,360.21 L331.2,359.92 L331.7,360.22 L332.2,362.22 L332.7,359.96 L333.2,362.14 L333.7,360.39 L334.2,360.23 L334.7,360.72 L335.2,361.39 L335.7,362.26 L336.2,362.25 L336.7,360.84 L337.2,361.88 L337.7,361.14 L338.2,361.85 L338.7,362.13 L339.2,361.81 L339.7,360.71 L340.2,361.34 L340.7,361.61 L341.2,361.38 L341.7,361.23 L342.2,361.34 L342.7,361.55 L343.2,360.21 L343.7,360.79 L344.2,362.18 L344.7,361.97 L345.2,362.33 L345.7,361.9 L346.2,362.81 L346.7,360.97 L347.2,361.46 L347.7,361.87 L348.2,360.68 L348.7,362.19 L349.2,361.57 L349.7,360.69 L350.2,361.69 L350.7,361.57 L351.2,362.23 L351.7,360.61 L352.2,361.25 L352.7,362.42 L353.2,362.27 L353.7,361.64 L354.2,361.79 L354.7,361.72 L355.2,362.51 L355.7,361.42 L356.2,360.98 L356.7,360.7 L357.2,361.37 L357.7,361.23 L358.2,360.91 L358.7,360.64 L359.2,360.62 L359.7,361.64 L360.2,360.81 L360.7,358.76 L361.2,359.03 L361.7,359.84 L362.2,359.01 L362.7,360.36 L363.2,360.2 L363.7,359.57 L364.2,359.18 L364.7,361.05 L365.2,360.07 L365.7,359.17 L366.2,360.2 L366.7,359.53 L367.2,362.21 L367.7,360.5 L368.2,361.1 L368.7,363.65 L369.2,362.78 L369.7,362.66 L370.2,364.52 L370.7,363.86 L371.2,363.78 L371.7,364.35 L372.2,365.71 L372.7,367.05 L373.2,366.15 L373.7,367.39 L374.2,366.78 L374.7,367.74 L375.2,367.79 L375.7,367.52 L376.2,367.08 L376.7,366.96 L377.2,368.51 L377.7,369.53 L378.2,368.3 L378.7,369.26 L379.2,368.89 L379.7,369.1 L380.2,370.07 L380.7,369.72" fill="none" stroke="#8a8a8a" stroke-width="0.6" opacity="0.9"/>
<path d="M301.7,369.99 L302.2,369.72 L302.7,369.29 L303.2,368.61 L303.7,367.57 L304.2,366.01 L304.7,363.74 L305.2,360.55 L305.7,356.18 L306.2,350.41 L306.7,343.03 L307.2,333.93 L307.7,323.1 L308.2,310.74 L308.7,297.2 L309.2,283.06 L309.7,269.06 L310.2,255.99 L310.7,244.15 L311.2,242.17 L311.7,239.88 L312.2,239.15 L312.7,240.72 L313.2,243.08 L313.7,247.98 L314.2,259.23 L314.7,271.96 L315.2,285.36 L315.7,298.65 L316.2,311.19 L316.7,322.52 L317.2,332.09 L317.7,340 L318.2,346.47 L318.7,351.08 L319.2,354.47 L319.7,358.2 L320.2,360.07 L320.7,359.37 L321.2,360.13 L321.7,361.73 L322.2,362.44 L322.7,363.1 L323.2,362.15 L323.7,360.62 L324.2,362.71 L324.7,362.35 L325.2,363.16 L325.7,361.54 L326.2,363.05 L326.7,361.2 L327.2,361.75 L327.7,361.96 L328.2,362.46 L328.7,362.34 L329.2,360.58 L329.7,360.45 L330.2,361.03 L330.7,362.66 L331.2,362.69 L331.7,362.24 L332.2,360.72 L332.7,360.53 L333.2,362.69 L333.7,361.49 L334.2,362.27 L334.7,362.06 L335.2,362.85 L335.7,361.29 L336.2,361.13 L336.7,360.67 L337.2,362.06 L337.7,362.2 L338.2,361.6 L338.7,363.16 L339.2,360.94 L339.7,361.29 L340.2,362.93 L340.7,362.42 L341.2,362.19 L341.7,361.11 L342.2,361.61 L342.7,362.99 L343.2,360.87 L343.7,360.96 L344.2,361.2 L344.7,362.32 L345.2,362.4 L345.7,362.63 L346.2,360.95 L346.7,362.47 L347.2,361.06 L347.7,363.42 L348.2,363.92 L348.7,362.62 L349.2,363.48 L349.7,363.34 L350.2,364.03 L350.7,363.79 L351.2,362.86 L351.7,363.94 L352.2,363.32 L352.7,362.37 L353.2,363.42 L353.7,363.24 L354.2,363 L354.7,363.29 L355.2,362.32 L355.7,361.59 L356.2,363.72 L356.7,362.08 L357.2,361.94 L357.7,360.63 L358.2,361.1 L358.7,362.21 L359.2,361.01 L359.7,359.97 L360.2,359.64 L360.7,360.03 L361.2,361.86 L361.7,360.94 L362.2,360.53 L362.7,360.92 L363.2,359.62 L363.7,360.44 L364.2,359.06 L364.7,362.1 L365.2,359.87 L365.7,362.18 L366.2,361.24 L366.7,362.67 L367.2,362.32 L367.7,362.03 L368.2,361.4 L368.7,364.59 L369.2,364 L369.7,365.3 L370.2,363.86 L370.7,366.12 L371.2,366.4 L371.7,364.99 L372.2,367.68 L372.7,365.55 L373.2,367.75 L373.7,365.89 L374.2,368.85 L374.7,369.14 L375.2,368.26 L375.7,368.96 L376.2,368.2 L376.7,369.33 L377.2,369.41 L379.2,369.71 L379.7,369.33 L380.2,369.9" fill="none" stroke="#404040" stroke-width="0.65" opacity="1"/>
<path d="M319.7,362.76 L320.2,362.47 L320.7,362.35 L321.2,362.95 L321.7,362.49 L322.2,362.76 L322.7,362.25 L323.2,362.42 L323.7,362.53 L324.2,362.48 L324.7,362.41 L325.2,362.97 L325.7,362.79 L326.2,363.03 L326.7,362.95 L327.2,362.35 L327.7,362.64 L328.2,362.96 L328.7,362.9 L329.2,362.81 L329.7,363.1 L330.2,362.53 L330.7,362.89 L331.2,363.17 L331.7,362.82 L332.2,362.91 L332.7,362.65 L333.2,363.07 L333.7,363.1 L334.2,362.91 L334.7,363 L335.2,363.24 L335.7,362.77 L336.2,362.68 L336.7,362.73 L337.2,362.88 L337.7,363.05 L338.2,362.81 L338.7,363.29 L339.2,363.39 L339.7,363.32 L340.2,363.08 L340.7,363.35 L341.2,363.19 L341.7,362.9 L342.2,363.07 L342.7,363.42 L343.2,363.5 L343.7,363.61 L344.2,363.59 L344.7,363.44 L345.2,363.1 L345.7,363.02 L346.2,363.39 L346.7,363.68 L347.2,363.28 L347.7,362.99 L348.2,363.76 L348.7,363.28 L349.2,363.01 L349.7,363.57 L350.2,363.38 L350.7,363.22 L351.2,363.37 L351.7,363.79 L352.2,363.33 L352.7,363.52 L353.2,363.5 L353.7,363.59 L354.2,363.46 L354.7,363.72 L355.2,363.5 L355.7,364.22 L356.2,364.37 L356.7,364.37 L357.2,364.17 L357.7,364.11 L358.2,364.07 L358.7,364.94 L359.2,365.08 L359.7,364.94 L360.2,364.89" fill="none" stroke="#3a3a4a" stroke-width="0.6" opacity="0.9"/>
<path d="M284.2,234.8 V373 M283.45,370.4 H381.7" stroke="#1e1e1e" stroke-width="1.5" fill="none"/>
<path d="M279.6,234.8 H284.2" stroke="#1e1e1e" stroke-width="1.3"/>
<path d="M279.6,280.9 H284.2" stroke="#1e1e1e" stroke-width="1.3"/>
<path d="M279.6,327.3 H284.2" stroke="#1e1e1e" stroke-width="1.3"/>
<path d="M314.5,370.4 V373" stroke="#1e1e1e" stroke-width="1.2"/>
<path d="M365.8,370.4 V373" stroke="#1e1e1e" stroke-width="1.2"/>
<text x="314.3" y="387.4" font-size="12" text-anchor="middle" font-weight="normal" fill="#1a1a1a" >2N</text>
<text x="365.6" y="386" font-size="12" text-anchor="middle" font-weight="normal" fill="#1a1a1a" >4N</text>
<text x="326.5" y="235.6" font-size="10.35" text-anchor="start" font-weight="normal" fill="#1a1a1a" >G0/G1: 71.3%</text>
<text x="326.5" y="248.2" font-size="10.35" text-anchor="start" font-weight="normal" fill="#1a1a1a" >S: 12.9%</text>
<text x="326.5" y="260.8" font-size="10.35" text-anchor="start" font-weight="normal" fill="#1a1a1a" >G2/M: 8.8%</text>
<text x="337.8" y="402.8" font-size="12" text-anchor="middle" font-weight="normal" fill="#1a1a1a" >BMSC/IFN-<tspan font-family="Liberation Serif" font-style="italic">&#946;</tspan></text>
<text x="0" y="0" font-size="12" text-anchor="middle" font-weight="normal" fill="#1a1a1a" transform="translate(10.7,77.3) rotate(-90)">Cell number</text>
<text x="0" y="0" font-size="12" text-anchor="middle" font-weight="normal" fill="#1a1a1a" transform="translate(10.7,302.3) rotate(-90)">Cell number</text>
<text x="-0.6" y="11.9" font-size="17.5" text-anchor="start" font-weight="bold" fill="#111" >A</text>
<text x="-1.2" y="238.2" font-size="17" text-anchor="start" font-weight="bold" fill="#111" >B</text>
<path d="M63.8,185.4 H377.6" stroke="#333" stroke-width="1.3"/>
<text x="220.7" y="201.4" font-size="11.8" text-anchor="middle" font-weight="normal" fill="#1a1a1a" >HepG2</text>
<path d="M54.1,410 H386.7" stroke="#555" stroke-width="1.5"/>
<text x="219.9" y="424.7" font-size="11.8" text-anchor="middle" font-weight="normal" fill="#1a1a1a" >Huh7</text>
<rect x="451.3" y="60.8" width="16.6" height="96.4" fill="#231f20"/>
<path d="M459.5,48.4 V60.8 M457.3,48.4 H461.7" stroke="#3a3a3a" stroke-width="1.2" fill="none"/>
<rect x="468.5" y="62.8" width="14.6" height="94.4" fill="url(#hg)" stroke="#3a3a3a" stroke-width="1.2"/>
<path d="M475.5,55 V69.5 M473.3,55 H477.7 M473.3,69.5 H477.7" stroke="#2a2a2a" stroke-width="1.1" fill="none"/>
<rect x="484.3" y="26.2" width="14.7" height="131" fill="#fff" stroke="#3a3a3a" stroke-width="1.2"/>
<path d="M491.5,14.7 V35.3 M489.3,14.7 H493.7 M489.3,35.3 H493.7" stroke="#2a2a2a" stroke-width="1.1" fill="none"/>
<polygon points="491.6,4.4 492.31,6.33 494.36,6.4 492.74,7.67 493.3,9.65 491.6,8.5 489.9,9.65 490.46,7.67 488.84,6.4 490.89,6.33" fill="#222"/>
<rect x="513.5" y="87.3" width="16" height="69.9" fill="#231f20"/>
<path d="M521.5,82.7 V87.3 M519.3,82.7 H523.7" stroke="#3a3a3a" stroke-width="1.2" fill="none"/>
<rect x="530.1" y="87.1" width="15.3" height="70.1" fill="url(#hg)" stroke="#3a3a3a" stroke-width="1.2"/>
<path d="M537.5,80.9 V92.1 M535.3,80.9 H539.7 M535.3,92.1 H539.7" stroke="#2a2a2a" stroke-width="1.1" fill="none"/>
<rect x="546.6" y="124.7" width="14.6" height="32.5" fill="#fff" stroke="#3a3a3a" stroke-width="1.2"/>
<path d="M553.5,119.2 V131.8 M551.3,119.2 H555.7 M551.3,131.8 H555.7" stroke="#2a2a2a" stroke-width="1.1" fill="none"/>
<polygon points="553.4,106.8 554.11,108.73 556.16,108.8 554.54,110.07 555.1,112.05 553.4,110.9 551.7,112.05 552.26,110.07 550.64,108.8 552.69,108.73" fill="#222"/>
<rect x="576.4" y="128.6" width="16.7" height="28.6" fill="#231f20"/>
<path d="M584.5,122.5 V128.6 M582.3,122.5 H586.7" stroke="#3a3a3a" stroke-width="1.2" fill="none"/>
<rect x="593.7" y="129.9" width="15.1" height="27.3" fill="url(#hg)" stroke="#3a3a3a" stroke-width="1.2"/>
<path d="M601.5,121.3 V137.7 M599.3,121.3 H603.7 M599.3,137.7 H603.7" stroke="#2a2a2a" stroke-width="1.1" fill="none"/>
<rect x="610" y="140.9" width="14.9" height="16.3" fill="#fff" stroke="#3a3a3a" stroke-width="1.2"/>
<path d="M617.5,132.4 V147.4 M615.3,132.4 H619.7 M615.3,147.4 H619.7" stroke="#2a2a2a" stroke-width="1.1" fill="none"/>
<polygon points="616.7,120.2 617.41,122.13 619.46,122.2 617.84,123.47 618.4,125.45 616.7,124.3 615,125.45 615.56,123.47 613.94,122.2 615.99,122.13" fill="#222"/>
<path d="M435.5,7.3 V157.2 H630" stroke="#1e1e1e" stroke-width="1.5" fill="none"/>
<path d="M435.5,157.2 H440.5" stroke="#1e1e1e" stroke-width="1.3"/>
<text x="431.2" y="162.1" font-size="12.2" text-anchor="end" font-weight="normal" fill="#1a1a1a" >0</text>
<path d="M435.5,138.46 H440.5" stroke="#1e1e1e" stroke-width="1.3"/>
<text x="431.2" y="143.36" font-size="12.2" text-anchor="end" font-weight="normal" fill="#1a1a1a" >10</text>
<path d="M435.5,119.72 H440.5" stroke="#1e1e1e" stroke-width="1.3"/>
<text x="431.2" y="124.62" font-size="12.2" text-anchor="end" font-weight="normal" fill="#1a1a1a" >20</text>
<path d="M435.5,100.99 H440.5" stroke="#1e1e1e" stroke-width="1.3"/>
<text x="431.2" y="105.89" font-size="12.2" text-anchor="end" font-weight="normal" fill="#1a1a1a" >30</text>
<path d="M435.5,82.25 H440.5" stroke="#1e1e1e" stroke-width="1.3"/>
<text x="431.2" y="87.15" font-size="12.2" text-anchor="end" font-weight="normal" fill="#1a1a1a" >40</text>
<path d="M435.5,63.51 H440.5" stroke="#1e1e1e" stroke-width="1.3"/>
<text x="431.2" y="68.41" font-size="12.2" text-anchor="end" font-weight="normal" fill="#1a1a1a" >50</text>
<path d="M435.5,44.78 H440.5" stroke="#1e1e1e" stroke-width="1.3"/>
<text x="431.2" y="49.68" font-size="12.2" text-anchor="end" font-weight="normal" fill="#1a1a1a" >60</text>
<path d="M435.5,26.04 H440.5" stroke="#1e1e1e" stroke-width="1.3"/>
<text x="431.2" y="30.94" font-size="12.2" text-anchor="end" font-weight="normal" fill="#1a1a1a" >70</text>
<path d="M435.5,7.3 H440.5" stroke="#1e1e1e" stroke-width="1.3"/>
<text x="431.2" y="12.2" font-size="12.2" text-anchor="end" font-weight="normal" fill="#1a1a1a" >80</text>
<text x="0" y="0" font-size="12.15" text-anchor="middle" font-weight="normal" fill="#1a1a1a" transform="translate(408.3,82) rotate(-90)">Relative cell number (%)</text>
<rect x="539.9" y="10.9" width="11.2" height="10.9" fill="#231f20" stroke="#3a3a3a" stroke-width="1"/>
<text x="554.6" y="20.05" font-size="10.2" text-anchor="start" font-weight="normal" fill="#1a1a1a" >DMEM</text>
<rect x="539.9" y="28.1" width="11.2" height="10.7" fill="url(#dots)" stroke="#3a3a3a" stroke-width="1"/>
<text x="554.6" y="37.15" font-size="10.2" text-anchor="start" font-weight="normal" fill="#1a1a1a" >BMSC/vector</text>
<rect x="539.9" y="45.7" width="11.2" height="10.8" fill="#fff" stroke="#3a3a3a" stroke-width="1"/>
<text x="554.6" y="54.8" font-size="10.2" text-anchor="start" font-weight="normal" fill="#1a1a1a" >BMSC/IFN-<tspan font-family="Liberation Serif" font-style="italic">&#946;</tspan></text>
<text x="414.5" y="174.1" font-size="11.7" text-anchor="start" font-weight="normal" fill="#1a1a1a" >Phase</text>
<text x="474.4" y="174.1" font-size="11.7" text-anchor="middle" font-weight="normal" fill="#1a1a1a" >G0/G1</text>
<text x="537.6" y="174.1" font-size="11.7" text-anchor="middle" font-weight="normal" fill="#1a1a1a" >S</text>
<text x="599.7" y="174.1" font-size="11.7" text-anchor="middle" font-weight="normal" fill="#1a1a1a" >G2/M</text>
<path d="M454.3,182.2 H621.5" stroke="#444" stroke-width="1.3"/>
<text x="537.6" y="195.8" font-size="11.8" text-anchor="middle" font-weight="normal" fill="#1a1a1a" >HepG2</text>
<rect x="454.3" y="290.2" width="15.1" height="95.8" fill="#231f20"/>
<path d="M461.5,284.3 V290.2 M459.3,284.3 H463.7" stroke="#3a3a3a" stroke-width="1.2" fill="none"/>
<rect x="470" y="294.6" width="14.4" height="91.4" fill="url(#hg)" stroke="#3a3a3a" stroke-width="1.2"/>
<path d="M477.5,287.2 V301 M475.3,287.2 H479.7 M475.3,301 H479.7" stroke="#2a2a2a" stroke-width="1.1" fill="none"/>
<rect x="485.6" y="255.5" width="14.9" height="130.5" fill="#fff" stroke="#3a3a3a" stroke-width="1.2"/>
<path d="M493.5,247.3 V263 M491.3,247.3 H495.7 M491.3,263 H495.7" stroke="#2a2a2a" stroke-width="1.1" fill="none"/>
<polygon points="493,235.8 493.71,237.73 495.76,237.8 494.14,239.07 494.7,241.05 493,239.9 491.3,241.05 491.86,239.07 490.24,237.8 492.29,237.73" fill="#222"/>
<rect x="514.1" y="320.5" width="16" height="65.5" fill="#231f20"/>
<path d="M522.5,314.4 V320.5 M520.3,314.4 H524.7" stroke="#3a3a3a" stroke-width="1.2" fill="none"/>
<rect x="530.7" y="320.4" width="14.4" height="65.6" fill="url(#hg)" stroke="#3a3a3a" stroke-width="1.2"/>
<path d="M537.5,314.7 V325.1 M535.3,314.7 H539.7 M535.3,325.1 H539.7" stroke="#2a2a2a" stroke-width="1.1" fill="none"/>
<rect x="546.3" y="349.5" width="14.3" height="36.5" fill="#fff" stroke="#3a3a3a" stroke-width="1.2"/>
<path d="M553.5,344.1 V354 M551.3,344.1 H555.7 M551.3,354 H555.7" stroke="#2a2a2a" stroke-width="1.1" fill="none"/>
<polygon points="553.3,333.1 554.01,335.03 556.06,335.1 554.44,336.37 555,338.35 553.3,337.2 551.6,338.35 552.16,336.37 550.54,335.1 552.59,335.03" fill="#222"/>
<rect x="575.3" y="359.9" width="16.3" height="26.1" fill="#231f20"/>
<path d="M583.5,350.2 V359.9 M581.3,350.2 H585.7" stroke="#3a3a3a" stroke-width="1.2" fill="none"/>
<rect x="592.2" y="360.2" width="13.7" height="25.8" fill="url(#hg)" stroke="#3a3a3a" stroke-width="1.2"/>
<path d="M599.5,354.3 V363.4 M597.3,354.3 H601.7 M597.3,363.4 H601.7" stroke="#2a2a2a" stroke-width="1.1" fill="none"/>
<rect x="607.1" y="371.2" width="14.7" height="14.8" fill="#fff" stroke="#3a3a3a" stroke-width="1.2"/>
<path d="M614.5,365.7 V375.3 M612.3,365.7 H616.7 M612.3,375.3 H616.7" stroke="#2a2a2a" stroke-width="1.1" fill="none"/>
<polygon points="613.9,354.8 614.61,356.73 616.66,356.8 615.04,358.07 615.6,360.05 613.9,358.9 612.2,360.05 612.76,358.07 611.14,356.8 613.19,356.73" fill="#222"/>
<path d="M435.5,236.4 V386 H628" stroke="#1e1e1e" stroke-width="1.5" fill="none"/>
<path d="M435.5,386 H440.5" stroke="#1e1e1e" stroke-width="1.3"/>
<text x="431.2" y="389.6" font-size="12.2" text-anchor="end" font-weight="normal" fill="#1a1a1a" >0</text>
<path d="M435.5,367.3 H440.5" stroke="#1e1e1e" stroke-width="1.3"/>
<text x="431.2" y="370.9" font-size="12.2" text-anchor="end" font-weight="normal" fill="#1a1a1a" >10</text>
<path d="M435.5,348.6 H440.5" stroke="#1e1e1e" stroke-width="1.3"/>
<text x="431.2" y="352.2" font-size="12.2" text-anchor="end" font-weight="normal" fill="#1a1a1a" >20</text>
<path d="M435.5,329.9 H440.5" stroke="#1e1e1e" stroke-width="1.3"/>
<text x="431.2" y="333.5" font-size="12.2" text-anchor="end" font-weight="normal" fill="#1a1a1a" >30</text>
<path d="M435.5,311.2 H440.5" stroke="#1e1e1e" stroke-width="1.3"/>
<text x="431.2" y="314.8" font-size="12.2" text-anchor="end" font-weight="normal" fill="#1a1a1a" >40</text>
<path d="M435.5,292.5 H440.5" stroke="#1e1e1e" stroke-width="1.3"/>
<text x="431.2" y="296.1" font-size="12.2" text-anchor="end" font-weight="normal" fill="#1a1a1a" >50</text>
<path d="M435.5,273.8 H440.5" stroke="#1e1e1e" stroke-width="1.3"/>
<text x="431.2" y="277.4" font-size="12.2" text-anchor="end" font-weight="normal" fill="#1a1a1a" >60</text>
<path d="M435.5,255.1 H440.5" stroke="#1e1e1e" stroke-width="1.3"/>
<text x="431.2" y="258.7" font-size="12.2" text-anchor="end" font-weight="normal" fill="#1a1a1a" >70</text>
<path d="M435.5,236.4 H440.5" stroke="#1e1e1e" stroke-width="1.3"/>
<text x="431.2" y="240" font-size="12.2" text-anchor="end" font-weight="normal" fill="#1a1a1a" >80</text>
<text x="0" y="0" font-size="12.15" text-anchor="middle" font-weight="normal" fill="#1a1a1a" transform="translate(408.3,310.3) rotate(-90)">Relative cell number (%)</text>
<rect x="536.5" y="239.7" width="10.8" height="10.8" fill="#231f20" stroke="#3a3a3a" stroke-width="1"/>
<text x="551.4" y="248.8" font-size="10.2" text-anchor="start" font-weight="normal" fill="#1a1a1a" >DMEM</text>
<rect x="536.5" y="256.8" width="10.8" height="10.7" fill="url(#dots)" stroke="#3a3a3a" stroke-width="1"/>
<text x="551.4" y="265.85" font-size="10.2" text-anchor="start" font-weight="normal" fill="#1a1a1a" >BMSC/vector</text>
<rect x="536.5" y="274.3" width="10.8" height="10.8" fill="#fff" stroke="#3a3a3a" stroke-width="1"/>
<text x="551.4" y="283.4" font-size="10.2" text-anchor="start" font-weight="normal" fill="#1a1a1a" >BMSC/IFN-<tspan font-family="Liberation Serif" font-style="italic">&#946;</tspan></text>
<text x="414.2" y="402.7" font-size="11.7" text-anchor="start" font-weight="normal" fill="#1a1a1a" >Phase</text>
<text x="475.4" y="402.7" font-size="11.7" text-anchor="middle" font-weight="normal" fill="#1a1a1a" >G0/G1</text>
<text x="538.5" y="402.7" font-size="11.7" text-anchor="middle" font-weight="normal" fill="#1a1a1a" >S</text>
<text x="599.7" y="402.7" font-size="11.7" text-anchor="middle" font-weight="normal" fill="#1a1a1a" >G2/M</text>
<path d="M454.4,409.7 H620.8" stroke="#444" stroke-width="1.3"/>
<text x="538.5" y="424.4" font-size="11.8" text-anchor="middle" font-weight="normal" fill="#1a1a1a" >Huh7</text>
</svg></body></html>
